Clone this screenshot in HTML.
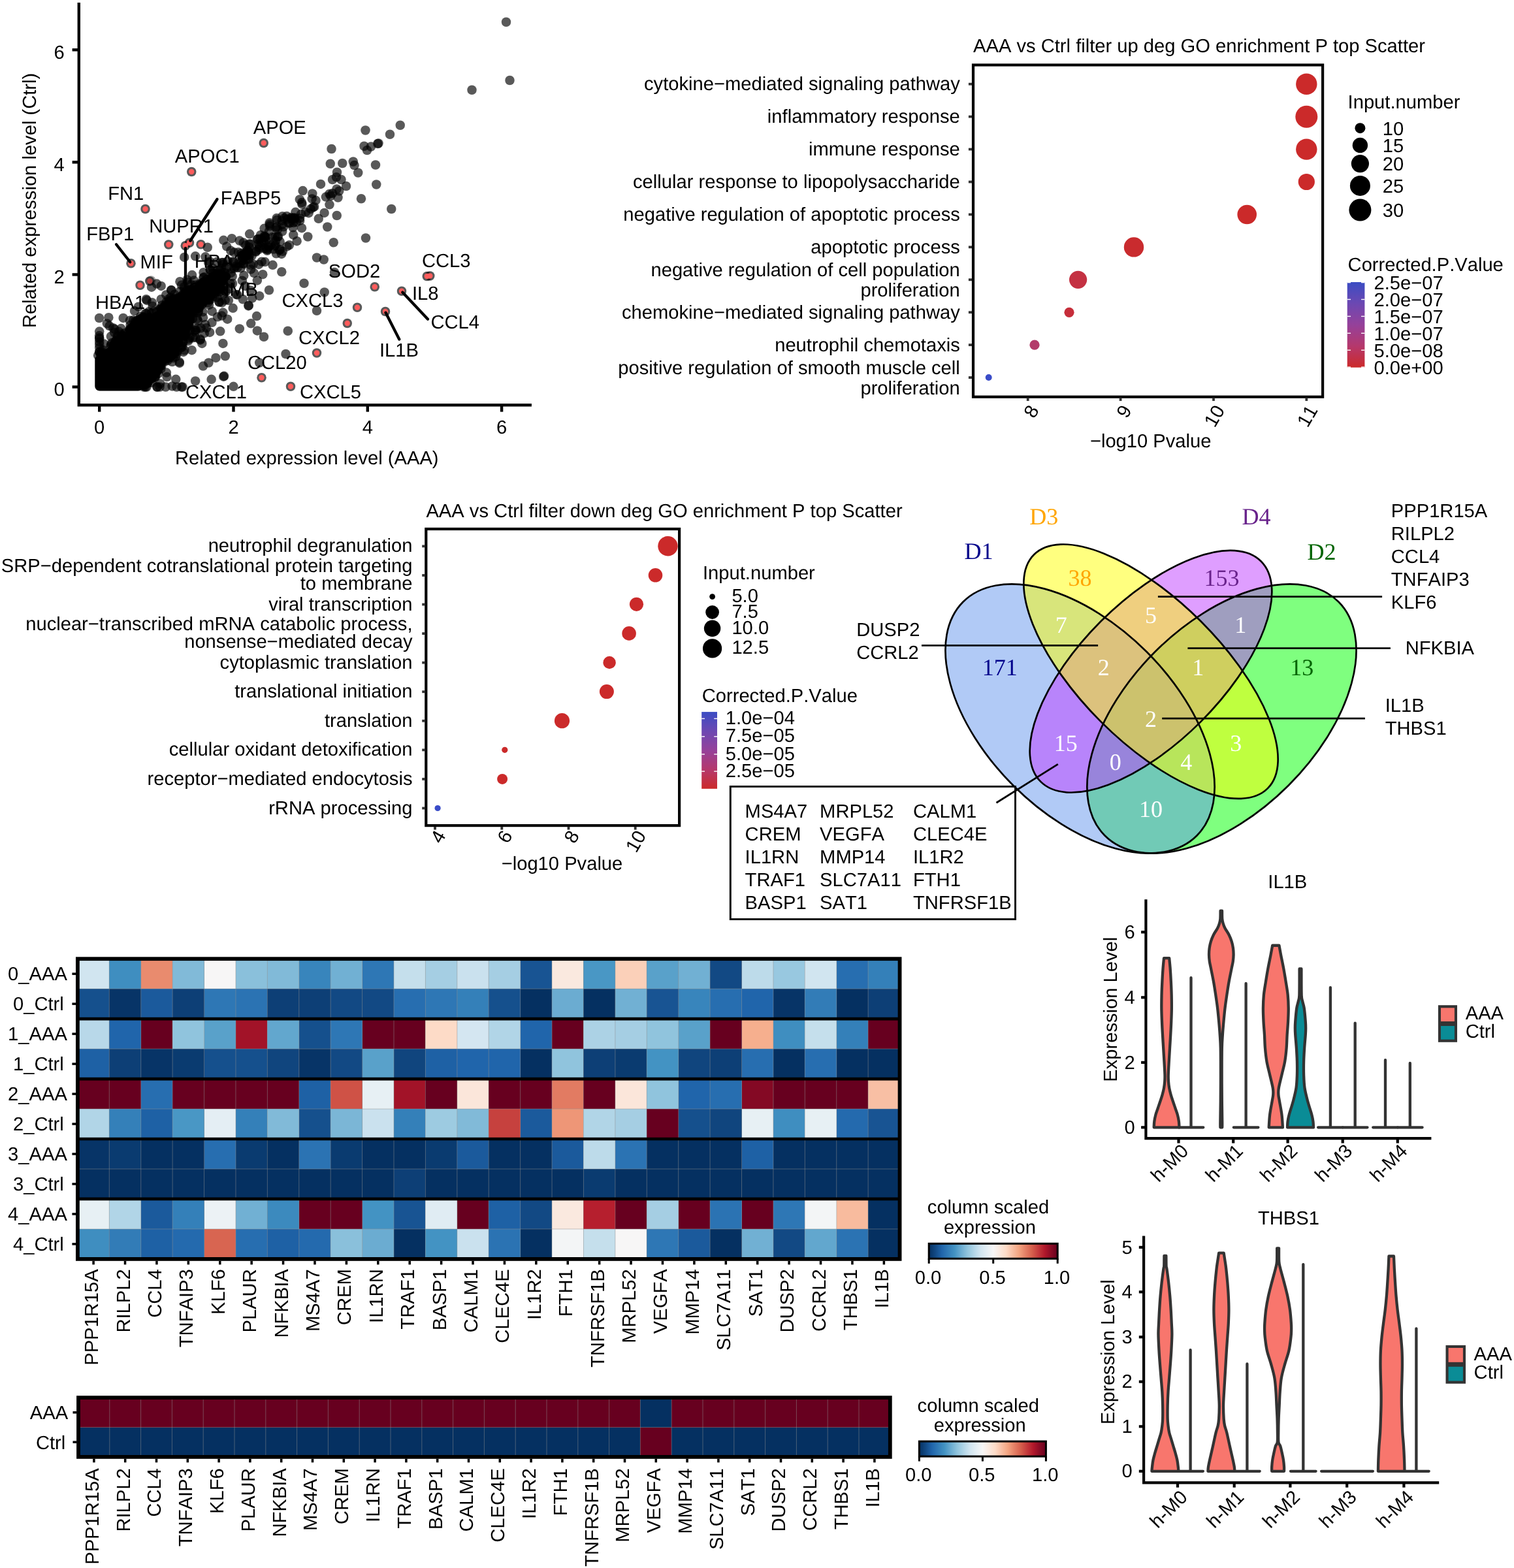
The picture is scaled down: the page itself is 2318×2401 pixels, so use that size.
<!DOCTYPE html>
<html><head><meta charset="utf-8"><title>Figure</title>
<style>
html,body{margin:0;padding:0;background:#fff}
svg{display:block}
svg{font-family:"Liberation Sans",sans-serif;font-size:29.17px}
text{font-kerning:none;text-rendering:geometricPrecision}
.serif{font-family:"Liberation Serif",serif;font-size:36px}
</style></head><body>
<svg width="2318" height="2401" viewBox="0 0 2318 2401">
<rect width="2318" height="2401" fill="#fff"/>
<g id="pa">
<g fill="#000" fill-opacity="0.65">
<circle cx="248.75" cy="476.04" r="7.25"/>
<circle cx="332.77" cy="424.13" r="7.25"/>
<circle cx="260.15" cy="467.78" r="7.25"/>
<circle cx="200.89" cy="506.87" r="7.25"/>
<circle cx="284.99" cy="456.04" r="7.25"/>
<circle cx="176.32" cy="525.55" r="7.25"/>
<circle cx="178.17" cy="529.66" r="7.25"/>
<circle cx="289.95" cy="444.1" r="7.25"/>
<circle cx="339.76" cy="426.22" r="7.25"/>
<circle cx="287.67" cy="451.82" r="7.25"/>
<circle cx="191.13" cy="509.89" r="7.25"/>
<circle cx="261.59" cy="461.02" r="7.25"/>
<circle cx="200.74" cy="503.88" r="7.25"/>
<circle cx="159.64" cy="539.91" r="7.25"/>
<circle cx="247.81" cy="479.79" r="7.25"/>
<circle cx="262.71" cy="466.43" r="7.25"/>
<circle cx="258.9" cy="469.53" r="7.25"/>
<circle cx="248.3" cy="473.34" r="7.25"/>
<circle cx="341.61" cy="425.89" r="7.25"/>
<circle cx="320.85" cy="432.74" r="7.25"/>
<circle cx="218.82" cy="487.51" r="7.25"/>
<circle cx="213.48" cy="488.98" r="7.25"/>
<circle cx="304.6" cy="438.86" r="7.25"/>
<circle cx="320.61" cy="429.69" r="7.25"/>
<circle cx="336.68" cy="426.18" r="7.25"/>
<circle cx="150.11" cy="544.13" r="7.25"/>
<circle cx="330.67" cy="425.23" r="7.25"/>
<circle cx="338" cy="421.65" r="7.25"/>
<circle cx="172.73" cy="532.02" r="7.25"/>
<circle cx="306.84" cy="436.32" r="7.25"/>
<circle cx="174.71" cy="527.16" r="7.25"/>
<circle cx="337.13" cy="425.22" r="7.25"/>
<circle cx="182.07" cy="520.32" r="7.25"/>
<circle cx="176.77" cy="522.5" r="7.25"/>
<circle cx="310.68" cy="433.28" r="7.25"/>
<circle cx="267.35" cy="462.34" r="7.25"/>
<circle cx="203.68" cy="506.91" r="7.25"/>
<circle cx="187.5" cy="520.36" r="7.25"/>
<circle cx="182.63" cy="521.79" r="7.25"/>
<circle cx="205.86" cy="498.98" r="7.25"/>
<circle cx="338.03" cy="425.33" r="7.25"/>
<circle cx="219.65" cy="493.54" r="7.25"/>
<circle cx="206.41" cy="499.99" r="7.25"/>
<circle cx="323.09" cy="430.81" r="7.25"/>
<circle cx="181.59" cy="528.91" r="7.25"/>
<circle cx="205.83" cy="498.86" r="7.25"/>
<circle cx="305.76" cy="437.51" r="7.25"/>
<circle cx="214.78" cy="488.26" r="7.25"/>
<circle cx="176.81" cy="528.24" r="7.25"/>
<circle cx="211.88" cy="496.22" r="7.25"/>
<circle cx="228.2" cy="486.44" r="7.25"/>
<circle cx="335.81" cy="423.16" r="7.25"/>
<circle cx="271.72" cy="464.56" r="7.25"/>
<circle cx="198.36" cy="505" r="7.25"/>
<circle cx="331.73" cy="428.05" r="7.25"/>
<circle cx="209.98" cy="492.96" r="7.25"/>
<circle cx="300.73" cy="446.34" r="7.25"/>
<circle cx="206.44" cy="506.96" r="7.25"/>
<circle cx="326.91" cy="428.4" r="7.25"/>
<circle cx="240.11" cy="477.6" r="7.25"/>
<circle cx="164.57" cy="541.64" r="7.25"/>
<circle cx="211.98" cy="497.49" r="7.25"/>
<circle cx="215.13" cy="495.32" r="7.25"/>
<circle cx="274.43" cy="458.27" r="7.25"/>
<circle cx="199.75" cy="510.32" r="7.25"/>
<circle cx="169.49" cy="530.19" r="7.25"/>
<circle cx="268.6" cy="465.6" r="7.25"/>
<circle cx="279.79" cy="454.62" r="7.25"/>
<circle cx="330.72" cy="422.64" r="7.25"/>
<circle cx="154.88" cy="541.29" r="7.25"/>
<circle cx="244.81" cy="473.61" r="7.25"/>
<circle cx="197.93" cy="507.88" r="7.25"/>
<circle cx="269.01" cy="458.81" r="7.25"/>
<circle cx="227.17" cy="490.58" r="7.25"/>
<circle cx="338.72" cy="423.77" r="7.25"/>
<circle cx="292.21" cy="448.22" r="7.25"/>
<circle cx="186.89" cy="513.93" r="7.25"/>
<circle cx="158.5" cy="545.5" r="7.25"/>
<circle cx="295.51" cy="449.95" r="7.25"/>
<circle cx="158.05" cy="542.9" r="7.25"/>
<circle cx="255.69" cy="472.67" r="7.25"/>
<circle cx="222.76" cy="492.9" r="7.25"/>
<circle cx="172.85" cy="531.01" r="7.25"/>
<circle cx="300.01" cy="446.34" r="7.25"/>
<circle cx="299.2" cy="444.85" r="7.25"/>
<circle cx="312.91" cy="439.31" r="7.25"/>
<circle cx="224.65" cy="489.39" r="7.25"/>
<circle cx="330.78" cy="429.04" r="7.25"/>
<circle cx="242.79" cy="482.99" r="7.25"/>
<circle cx="324.41" cy="429.37" r="7.25"/>
<circle cx="281.97" cy="453.95" r="7.25"/>
<circle cx="272.59" cy="461.86" r="7.25"/>
<circle cx="174.6" cy="530.64" r="7.25"/>
<circle cx="340.8" cy="425.1" r="7.25"/>
<circle cx="296.9" cy="443.06" r="7.25"/>
<circle cx="298.22" cy="444.18" r="7.25"/>
<circle cx="247.78" cy="479.76" r="7.25"/>
<circle cx="176.11" cy="530.66" r="7.25"/>
<circle cx="160.25" cy="540.93" r="7.25"/>
<circle cx="252.84" cy="469.41" r="7.25"/>
<circle cx="292.88" cy="446.88" r="7.25"/>
<circle cx="283.35" cy="458.84" r="7.25"/>
<circle cx="209.6" cy="491.01" r="7.25"/>
<circle cx="218.21" cy="492.31" r="7.25"/>
<circle cx="203.89" cy="499.99" r="7.25"/>
<circle cx="330.71" cy="427.04" r="7.25"/>
<circle cx="248.35" cy="479.92" r="7.25"/>
<circle cx="222.76" cy="489.59" r="7.25"/>
<circle cx="203.93" cy="503.19" r="7.25"/>
<circle cx="315.66" cy="437.76" r="7.25"/>
<circle cx="325.77" cy="426.85" r="7.25"/>
<circle cx="271.79" cy="459.47" r="7.25"/>
<circle cx="188.5" cy="517.85" r="7.25"/>
<circle cx="320.9" cy="434.12" r="7.25"/>
<circle cx="297.01" cy="448.82" r="7.25"/>
<circle cx="211.73" cy="490.96" r="7.25"/>
<circle cx="246.92" cy="474.34" r="7.25"/>
<circle cx="206.97" cy="499.59" r="7.25"/>
<circle cx="282.71" cy="454.59" r="7.25"/>
<circle cx="221.44" cy="492.06" r="7.25"/>
<circle cx="338.34" cy="422.04" r="7.25"/>
<circle cx="169.92" cy="527.66" r="7.25"/>
<circle cx="323.32" cy="424.77" r="7.25"/>
<circle cx="294.8" cy="446.36" r="7.25"/>
<circle cx="220.11" cy="492.35" r="7.25"/>
<circle cx="154.91" cy="539.85" r="7.25"/>
<circle cx="246.48" cy="471.97" r="7.25"/>
<circle cx="316.97" cy="430.29" r="7.25"/>
<circle cx="187.1" cy="513.89" r="7.25"/>
<circle cx="282.97" cy="453.84" r="7.25"/>
<circle cx="284.24" cy="455.12" r="7.25"/>
<circle cx="316.1" cy="437.95" r="7.25"/>
<circle cx="289.35" cy="446.14" r="7.25"/>
<circle cx="251.4" cy="469.94" r="7.25"/>
<circle cx="154.29" cy="543.89" r="7.25"/>
<circle cx="293.77" cy="442.98" r="7.25"/>
<circle cx="211.69" cy="492.73" r="7.25"/>
<circle cx="292.83" cy="447.15" r="7.25"/>
<circle cx="282.44" cy="457.76" r="7.25"/>
<circle cx="233.33" cy="488.16" r="7.25"/>
<circle cx="328.58" cy="422.58" r="7.25"/>
<circle cx="335.04" cy="425.48" r="7.25"/>
<circle cx="186.21" cy="519.3" r="7.25"/>
<circle cx="284.98" cy="457.37" r="7.25"/>
<circle cx="229.47" cy="487.14" r="7.25"/>
<circle cx="327.22" cy="430.11" r="7.25"/>
<circle cx="334.06" cy="423.56" r="7.25"/>
<circle cx="285.01" cy="449.43" r="7.25"/>
<circle cx="298.01" cy="446.78" r="7.25"/>
<circle cx="286.36" cy="454.06" r="7.25"/>
<circle cx="210.09" cy="502.39" r="7.25"/>
<circle cx="339.6" cy="426.39" r="7.25"/>
<circle cx="263.86" cy="466.81" r="7.25"/>
<circle cx="222.64" cy="492.08" r="7.25"/>
<circle cx="322.08" cy="428.47" r="7.25"/>
<circle cx="174.18" cy="528.78" r="7.25"/>
<circle cx="266.5" cy="465.61" r="7.25"/>
<circle cx="253.12" cy="467.03" r="7.25"/>
<circle cx="312.58" cy="431.08" r="7.25"/>
<circle cx="311.31" cy="432.88" r="7.25"/>
<circle cx="221.45" cy="491.1" r="7.25"/>
<circle cx="187.59" cy="514.63" r="7.25"/>
<circle cx="262.62" cy="467.4" r="7.25"/>
<circle cx="320.73" cy="432.63" r="7.25"/>
<circle cx="334.31" cy="423.74" r="7.25"/>
<circle cx="333.59" cy="420.29" r="7.25"/>
<circle cx="208.65" cy="499.09" r="7.25"/>
<circle cx="216.5" cy="493.79" r="7.25"/>
<circle cx="284.87" cy="453.11" r="7.25"/>
<circle cx="320.83" cy="431.29" r="7.25"/>
<circle cx="218.83" cy="489.01" r="7.25"/>
<circle cx="322.58" cy="433.67" r="7.25"/>
<circle cx="209.13" cy="502.89" r="7.25"/>
<circle cx="336.99" cy="423.14" r="7.25"/>
<circle cx="269.39" cy="459.31" r="7.25"/>
<circle cx="262.78" cy="464.57" r="7.25"/>
<circle cx="277.01" cy="454.1" r="7.25"/>
<circle cx="337.07" cy="423.04" r="7.25"/>
<circle cx="239.49" cy="485.59" r="7.25"/>
<circle cx="268.21" cy="462.42" r="7.25"/>
<circle cx="289.7" cy="444.52" r="7.25"/>
<circle cx="263.08" cy="463.63" r="7.25"/>
<circle cx="336.75" cy="426.85" r="7.25"/>
<circle cx="211.68" cy="494.01" r="7.25"/>
<circle cx="185.36" cy="519.76" r="7.25"/>
<circle cx="317.33" cy="436.67" r="7.25"/>
<circle cx="252.4" cy="470.69" r="7.25"/>
<circle cx="203.22" cy="506" r="7.25"/>
<circle cx="331.64" cy="421.46" r="7.25"/>
<circle cx="305.98" cy="434.36" r="7.25"/>
<circle cx="201.64" cy="502.89" r="7.25"/>
<circle cx="290.32" cy="446.76" r="7.25"/>
<circle cx="225.23" cy="488.66" r="7.25"/>
<circle cx="181.36" cy="526.24" r="7.25"/>
<circle cx="184.71" cy="521.12" r="7.25"/>
<circle cx="210.17" cy="492.84" r="7.25"/>
<circle cx="263.94" cy="463.32" r="7.25"/>
<circle cx="228.93" cy="485.9" r="7.25"/>
<circle cx="262.3" cy="461.56" r="7.25"/>
<circle cx="207.17" cy="502.28" r="7.25"/>
<circle cx="284.84" cy="453.21" r="7.25"/>
<circle cx="322.4" cy="430.9" r="7.25"/>
<circle cx="321.76" cy="427.51" r="7.25"/>
<circle cx="300.49" cy="445.19" r="7.25"/>
<circle cx="328.92" cy="424.62" r="7.25"/>
<circle cx="221.73" cy="492.73" r="7.25"/>
<circle cx="211.36" cy="502.2" r="7.25"/>
<circle cx="325.91" cy="424.37" r="7.25"/>
<circle cx="212.25" cy="497.47" r="7.25"/>
<circle cx="210.63" cy="490.93" r="7.25"/>
<circle cx="318.2" cy="431.42" r="7.25"/>
<circle cx="308.85" cy="433.79" r="7.25"/>
<circle cx="239.33" cy="484.45" r="7.25"/>
<circle cx="154.86" cy="540.58" r="7.25"/>
<circle cx="292.43" cy="451.47" r="7.25"/>
<circle cx="335.86" cy="419.8" r="7.25"/>
<circle cx="260.59" cy="469.29" r="7.25"/>
<circle cx="259.63" cy="469.23" r="7.25"/>
<circle cx="199.44" cy="503.05" r="7.25"/>
<circle cx="177.95" cy="521.31" r="7.25"/>
<circle cx="266.01" cy="463.46" r="7.25"/>
<circle cx="268.36" cy="459.19" r="7.25"/>
<circle cx="199.08" cy="504.93" r="7.25"/>
<circle cx="322.06" cy="434.86" r="7.25"/>
<circle cx="331.75" cy="421.07" r="7.25"/>
<circle cx="171" cy="536.85" r="7.25"/>
<circle cx="251.78" cy="475.98" r="7.25"/>
<circle cx="221.89" cy="488.11" r="7.25"/>
<circle cx="260.85" cy="465.57" r="7.25"/>
<circle cx="276.28" cy="454.55" r="7.25"/>
<circle cx="295.72" cy="471.67" r="7.25"/>
<circle cx="242.05" cy="561.41" r="7.25"/>
<circle cx="306.41" cy="464.76" r="7.25"/>
<circle cx="245.73" cy="560.66" r="7.25"/>
<circle cx="282.1" cy="511.48" r="7.25"/>
<circle cx="329.52" cy="437.59" r="7.25"/>
<circle cx="296.35" cy="470.69" r="7.25"/>
<circle cx="287.41" cy="490.39" r="7.25"/>
<circle cx="284.22" cy="494.84" r="7.25"/>
<circle cx="334.73" cy="427.3" r="7.25"/>
<circle cx="248.85" cy="545.99" r="7.25"/>
<circle cx="304.97" cy="461.46" r="7.25"/>
<circle cx="319.66" cy="451.01" r="7.25"/>
<circle cx="329.56" cy="436.67" r="7.25"/>
<circle cx="294.97" cy="473.61" r="7.25"/>
<circle cx="311.64" cy="459.04" r="7.25"/>
<circle cx="305.23" cy="470.68" r="7.25"/>
<circle cx="260.9" cy="537.51" r="7.25"/>
<circle cx="219.48" cy="590.51" r="7.25"/>
<circle cx="286.47" cy="488.03" r="7.25"/>
<circle cx="244.86" cy="550.62" r="7.25"/>
<circle cx="290.9" cy="484.69" r="7.25"/>
<circle cx="288.6" cy="484.82" r="7.25"/>
<circle cx="280.32" cy="507.01" r="7.25"/>
<circle cx="337.41" cy="424.73" r="7.25"/>
<circle cx="296.31" cy="472.07" r="7.25"/>
<circle cx="340.69" cy="430.52" r="7.25"/>
<circle cx="283.69" cy="491.38" r="7.25"/>
<circle cx="251.99" cy="549.09" r="7.25"/>
<circle cx="226.99" cy="584.15" r="7.25"/>
<circle cx="267.77" cy="532.26" r="7.25"/>
<circle cx="247.98" cy="547.07" r="7.25"/>
<circle cx="280.4" cy="503.9" r="7.25"/>
<circle cx="335.34" cy="430.97" r="7.25"/>
<circle cx="337.06" cy="425.62" r="7.25"/>
<circle cx="320.84" cy="453.85" r="7.25"/>
<circle cx="282.09" cy="494.2" r="7.25"/>
<circle cx="221.38" cy="580.91" r="7.25"/>
<circle cx="239.33" cy="564.78" r="7.25"/>
<circle cx="240.28" cy="563.17" r="7.25"/>
<circle cx="288.6" cy="494.69" r="7.25"/>
<circle cx="334.72" cy="435.48" r="7.25"/>
<circle cx="278.26" cy="507.41" r="7.25"/>
<circle cx="265.16" cy="533.48" r="7.25"/>
<circle cx="288.29" cy="485.61" r="7.25"/>
<circle cx="253.2" cy="543.5" r="7.25"/>
<circle cx="259.32" cy="545.66" r="7.25"/>
<circle cx="252.65" cy="553.19" r="7.25"/>
<circle cx="236.97" cy="563.86" r="7.25"/>
<circle cx="263.6" cy="525.82" r="7.25"/>
<circle cx="310.59" cy="464.52" r="7.25"/>
<circle cx="334.13" cy="425.7" r="7.25"/>
<circle cx="226.15" cy="575.87" r="7.25"/>
<circle cx="271.71" cy="519.75" r="7.25"/>
<circle cx="338.38" cy="431.01" r="7.25"/>
<circle cx="275.31" cy="506.93" r="7.25"/>
<circle cx="302.62" cy="468.46" r="7.25"/>
<circle cx="334.33" cy="427.97" r="7.25"/>
<circle cx="287.55" cy="495.69" r="7.25"/>
<circle cx="286.6" cy="491.03" r="7.25"/>
<circle cx="247.55" cy="559.86" r="7.25"/>
<circle cx="282.16" cy="508.62" r="7.25"/>
<circle cx="271.73" cy="516.9" r="7.25"/>
<circle cx="275.87" cy="517.13" r="7.25"/>
<circle cx="283.07" cy="498.94" r="7.25"/>
<circle cx="312.94" cy="456.21" r="7.25"/>
<circle cx="334.78" cy="424.05" r="7.25"/>
<circle cx="306.49" cy="466.91" r="7.25"/>
<circle cx="230.82" cy="570.08" r="7.25"/>
<circle cx="313.4" cy="454.6" r="7.25"/>
<circle cx="264.48" cy="534.84" r="7.25"/>
<circle cx="294.33" cy="477.1" r="7.25"/>
<circle cx="282.58" cy="495.63" r="7.25"/>
<circle cx="311.02" cy="462.28" r="7.25"/>
<circle cx="246.67" cy="547.7" r="7.25"/>
<circle cx="332.29" cy="434.34" r="7.25"/>
<circle cx="226.08" cy="586.92" r="7.25"/>
<circle cx="253.57" cy="546.92" r="7.25"/>
<circle cx="289.25" cy="492.54" r="7.25"/>
<circle cx="283.41" cy="506.58" r="7.25"/>
<circle cx="228.97" cy="575.66" r="7.25"/>
<circle cx="279.44" cy="503.43" r="7.25"/>
<circle cx="264.66" cy="531.08" r="7.25"/>
<circle cx="246.39" cy="557.21" r="7.25"/>
<circle cx="304.65" cy="461.03" r="7.25"/>
<circle cx="231.35" cy="580.22" r="7.25"/>
<circle cx="317.44" cy="450.57" r="7.25"/>
<circle cx="313.38" cy="459.64" r="7.25"/>
<circle cx="272.73" cy="521.58" r="7.25"/>
<circle cx="319.11" cy="452.01" r="7.25"/>
<circle cx="284.87" cy="484.2" r="7.25"/>
<circle cx="259.39" cy="538.49" r="7.25"/>
<circle cx="304.36" cy="460.27" r="7.25"/>
<circle cx="272.29" cy="520.55" r="7.25"/>
<circle cx="228.88" cy="572.91" r="7.25"/>
<circle cx="232.27" cy="579.67" r="7.25"/>
<circle cx="281.45" cy="501.67" r="7.25"/>
<circle cx="296.15" cy="478.5" r="7.25"/>
<circle cx="315.31" cy="459.38" r="7.25"/>
<circle cx="244.51" cy="555.14" r="7.25"/>
<circle cx="231.36" cy="577.82" r="7.25"/>
<circle cx="301.58" cy="466.66" r="7.25"/>
<circle cx="256.88" cy="546.81" r="7.25"/>
<circle cx="260.95" cy="533.11" r="7.25"/>
<circle cx="266.5" cy="534.06" r="7.25"/>
<circle cx="299.22" cy="471.18" r="7.25"/>
<circle cx="328.46" cy="438.54" r="7.25"/>
<circle cx="334.43" cy="437.51" r="7.25"/>
<circle cx="318.39" cy="453.51" r="7.25"/>
<circle cx="259.42" cy="540.43" r="7.25"/>
<circle cx="330.13" cy="435.76" r="7.25"/>
<circle cx="250.85" cy="551" r="7.25"/>
<circle cx="264.58" cy="533.14" r="7.25"/>
<circle cx="268.06" cy="526.94" r="7.25"/>
<circle cx="242.96" cy="558.62" r="7.25"/>
<circle cx="315.99" cy="453.04" r="7.25"/>
<circle cx="322.79" cy="446.07" r="7.25"/>
<circle cx="239.38" cy="560.59" r="7.25"/>
<circle cx="330.7" cy="442.49" r="7.25"/>
<circle cx="220.34" cy="587.47" r="7.25"/>
<circle cx="279.56" cy="504.67" r="7.25"/>
<circle cx="334.62" cy="430.81" r="7.25"/>
<circle cx="320.07" cy="454.77" r="7.25"/>
<circle cx="277.94" cy="503.57" r="7.25"/>
<circle cx="232.78" cy="579.12" r="7.25"/>
<circle cx="302.67" cy="462.59" r="7.25"/>
<circle cx="229.05" cy="576.16" r="7.25"/>
<circle cx="235.48" cy="565.97" r="7.25"/>
<circle cx="290.23" cy="487.82" r="7.25"/>
<circle cx="244.67" cy="553.44" r="7.25"/>
<circle cx="276.59" cy="507.75" r="7.25"/>
<circle cx="268.28" cy="527.41" r="7.25"/>
<circle cx="334.61" cy="430.4" r="7.25"/>
<circle cx="277.81" cy="510.33" r="7.25"/>
<circle cx="300.66" cy="467.57" r="7.25"/>
<circle cx="334.81" cy="437.5" r="7.25"/>
<circle cx="319.95" cy="447.54" r="7.25"/>
<circle cx="323.86" cy="442.39" r="7.25"/>
<circle cx="320.6" cy="444.25" r="7.25"/>
<circle cx="334.01" cy="432.43" r="7.25"/>
<circle cx="277.17" cy="507.54" r="7.25"/>
<circle cx="317.55" cy="452.93" r="7.25"/>
<circle cx="273.12" cy="522.69" r="7.25"/>
<circle cx="302.91" cy="461.06" r="7.25"/>
<circle cx="267.24" cy="531.99" r="7.25"/>
<circle cx="245.06" cy="557.81" r="7.25"/>
<circle cx="252.57" cy="540.87" r="7.25"/>
<circle cx="227.68" cy="581.9" r="7.25"/>
<circle cx="232.62" cy="571.2" r="7.25"/>
<circle cx="314.75" cy="458.68" r="7.25"/>
<circle cx="227.22" cy="580.47" r="7.25"/>
<circle cx="279.84" cy="495.8" r="7.25"/>
<circle cx="225.26" cy="587.22" r="7.25"/>
<circle cx="244.08" cy="562.1" r="7.25"/>
<circle cx="246.83" cy="551.26" r="7.25"/>
<circle cx="285.99" cy="496.71" r="7.25"/>
<circle cx="243.7" cy="561.7" r="7.25"/>
<circle cx="238.89" cy="561.26" r="7.25"/>
<circle cx="257.73" cy="540.44" r="7.25"/>
<circle cx="319.61" cy="450.16" r="7.25"/>
<circle cx="249.27" cy="545.82" r="7.25"/>
<circle cx="335.1" cy="438.03" r="7.25"/>
<circle cx="276.61" cy="502.97" r="7.25"/>
<circle cx="278.9" cy="513.49" r="7.25"/>
<circle cx="222.02" cy="579.97" r="7.25"/>
<circle cx="317.64" cy="453.29" r="7.25"/>
<circle cx="278.97" cy="507.52" r="7.25"/>
<circle cx="250.31" cy="543.24" r="7.25"/>
<circle cx="290.98" cy="486.46" r="7.25"/>
<circle cx="218.77" cy="589.79" r="7.25"/>
<circle cx="262.1" cy="530" r="7.25"/>
<circle cx="299.79" cy="470" r="7.25"/>
<circle cx="241.18" cy="566.84" r="7.25"/>
<circle cx="260.85" cy="540.63" r="7.25"/>
<circle cx="327.72" cy="442.38" r="7.25"/>
<circle cx="283.48" cy="486.89" r="7.25"/>
<circle cx="252.32" cy="546.94" r="7.25"/>
<circle cx="236.14" cy="564.75" r="7.25"/>
<circle cx="214.98" cy="589.53" r="7.25"/>
<circle cx="322.73" cy="443.18" r="7.25"/>
<circle cx="231.7" cy="577.88" r="7.25"/>
<circle cx="303.82" cy="472.02" r="7.25"/>
<circle cx="276.91" cy="512.6" r="7.25"/>
<circle cx="334.25" cy="433.03" r="7.25"/>
<circle cx="327.23" cy="445.22" r="7.25"/>
<circle cx="315.48" cy="455.06" r="7.25"/>
<circle cx="335.01" cy="441.85" r="7.25"/>
<circle cx="322.76" cy="450.32" r="7.25"/>
<circle cx="279.85" cy="504.93" r="7.25"/>
<circle cx="236.55" cy="563.31" r="7.25"/>
<circle cx="259.25" cy="541.82" r="7.25"/>
<circle cx="230.43" cy="578.84" r="7.25"/>
<circle cx="273.87" cy="513.2" r="7.25"/>
<circle cx="261.47" cy="532.89" r="7.25"/>
<circle cx="233.27" cy="573.98" r="7.25"/>
<circle cx="271.55" cy="512.71" r="7.25"/>
<circle cx="320.6" cy="447.05" r="7.25"/>
<circle cx="219.63" cy="590.07" r="7.25"/>
<circle cx="301.57" cy="472.83" r="7.25"/>
<circle cx="281.66" cy="501.76" r="7.25"/>
<circle cx="215.36" cy="586.89" r="7.25"/>
<circle cx="318.41" cy="454.69" r="7.25"/>
<circle cx="287.21" cy="493" r="7.25"/>
<circle cx="264.54" cy="530.24" r="7.25"/>
<circle cx="257.47" cy="543.54" r="7.25"/>
<circle cx="265.58" cy="526.39" r="7.25"/>
<circle cx="253.28" cy="550.25" r="7.25"/>
<circle cx="305.31" cy="467.1" r="7.25"/>
<circle cx="333.59" cy="435.03" r="7.25"/>
<circle cx="303.74" cy="468.95" r="7.25"/>
<circle cx="323.56" cy="450.94" r="7.25"/>
<circle cx="239.61" cy="569.84" r="7.25"/>
<circle cx="291.89" cy="478.1" r="7.25"/>
<circle cx="242.24" cy="561.91" r="7.25"/>
<circle cx="322.7" cy="445.81" r="7.25"/>
<circle cx="232.52" cy="577.39" r="7.25"/>
<circle cx="241.38" cy="567.05" r="7.25"/>
<circle cx="271.76" cy="526.05" r="7.25"/>
<circle cx="332.67" cy="439.96" r="7.25"/>
<circle cx="276.93" cy="509.72" r="7.25"/>
<circle cx="309.37" cy="456.24" r="7.25"/>
<circle cx="267.3" cy="529.15" r="7.25"/>
<circle cx="272.83" cy="525.23" r="7.25"/>
<circle cx="266.37" cy="524.51" r="7.25"/>
<circle cx="334.79" cy="427.49" r="7.25"/>
<circle cx="288.34" cy="484.6" r="7.25"/>
<circle cx="220.93" cy="589.2" r="7.25"/>
<circle cx="259.61" cy="536.6" r="7.25"/>
<circle cx="233.45" cy="573.98" r="7.25"/>
<circle cx="275.66" cy="509.65" r="7.25"/>
<circle cx="312.49" cy="424.3" r="7.25"/>
<circle cx="185.35" cy="503.04" r="7.25"/>
<circle cx="325.8" cy="418.26" r="7.25"/>
<circle cx="222.47" cy="480.04" r="7.25"/>
<circle cx="182.07" cy="507.86" r="7.25"/>
<circle cx="336.42" cy="414.46" r="7.25"/>
<circle cx="286.88" cy="432.26" r="7.25"/>
<circle cx="188.68" cy="486.91" r="7.25"/>
<circle cx="279.89" cy="450.77" r="7.25"/>
<circle cx="171.37" cy="525.02" r="7.25"/>
<circle cx="267.01" cy="450.8" r="7.25"/>
<circle cx="211.93" cy="469.71" r="7.25"/>
<circle cx="224.34" cy="480.08" r="7.25"/>
<circle cx="167.55" cy="499.03" r="7.25"/>
<circle cx="175.56" cy="503.76" r="7.25"/>
<circle cx="261.18" cy="455.67" r="7.25"/>
<circle cx="265.84" cy="457.65" r="7.25"/>
<circle cx="314.51" cy="393.27" r="7.25"/>
<circle cx="311.21" cy="425.22" r="7.25"/>
<circle cx="175.2" cy="509.31" r="7.25"/>
<circle cx="205.97" cy="476.03" r="7.25"/>
<circle cx="203.98" cy="490.18" r="7.25"/>
<circle cx="315.96" cy="428.08" r="7.25"/>
<circle cx="263.85" cy="460.04" r="7.25"/>
<circle cx="157.63" cy="536.02" r="7.25"/>
<circle cx="332" cy="401.11" r="7.25"/>
<circle cx="284.01" cy="446.04" r="7.25"/>
<circle cx="281.91" cy="439.37" r="7.25"/>
<circle cx="228.04" cy="477.24" r="7.25"/>
<circle cx="311.81" cy="431.92" r="7.25"/>
<circle cx="199.53" cy="497.78" r="7.25"/>
<circle cx="185.83" cy="511.41" r="7.25"/>
<circle cx="267.98" cy="457.69" r="7.25"/>
<circle cx="258.9" cy="461.07" r="7.25"/>
<circle cx="267.17" cy="456.45" r="7.25"/>
<circle cx="282.89" cy="449.87" r="7.25"/>
<circle cx="286.31" cy="446.04" r="7.25"/>
<circle cx="332.88" cy="414.28" r="7.25"/>
<circle cx="247.87" cy="467.45" r="7.25"/>
<circle cx="275.27" cy="446.26" r="7.25"/>
<circle cx="296.95" cy="429.53" r="7.25"/>
<circle cx="232.04" cy="439.63" r="7.25"/>
<circle cx="311.5" cy="417.18" r="7.25"/>
<circle cx="235.35" cy="476.51" r="7.25"/>
<circle cx="262.11" cy="444.24" r="7.25"/>
<circle cx="258.37" cy="457.75" r="7.25"/>
<circle cx="232.85" cy="463.35" r="7.25"/>
<circle cx="219.11" cy="485.79" r="7.25"/>
<circle cx="286.56" cy="428.42" r="7.25"/>
<circle cx="292.77" cy="435.61" r="7.25"/>
<circle cx="298.93" cy="436.4" r="7.25"/>
<circle cx="273.11" cy="456.62" r="7.25"/>
<circle cx="180.51" cy="515.01" r="7.25"/>
<circle cx="254.61" cy="462.6" r="7.25"/>
<circle cx="159.26" cy="526.56" r="7.25"/>
<circle cx="260.34" cy="460.27" r="7.25"/>
<circle cx="215.06" cy="484.62" r="7.25"/>
<circle cx="207.4" cy="494.33" r="7.25"/>
<circle cx="319.19" cy="401.89" r="7.25"/>
<circle cx="277.99" cy="436.56" r="7.25"/>
<circle cx="233.53" cy="468.85" r="7.25"/>
<circle cx="198.85" cy="490.83" r="7.25"/>
<circle cx="262.33" cy="444.3" r="7.25"/>
<circle cx="169.8" cy="515.09" r="7.25"/>
<circle cx="179.59" cy="514.2" r="7.25"/>
<circle cx="333.88" cy="420.47" r="7.25"/>
<circle cx="206.95" cy="491.87" r="7.25"/>
<circle cx="219.81" cy="485.33" r="7.25"/>
<circle cx="321.89" cy="413.44" r="7.25"/>
<circle cx="231.96" cy="479.44" r="7.25"/>
<circle cx="298.22" cy="479.33" r="7.25"/>
<circle cx="245.23" cy="587.42" r="7.25"/>
<circle cx="280.54" cy="524.15" r="7.25"/>
<circle cx="386.12" cy="456.57" r="7.25"/>
<circle cx="288.83" cy="498.73" r="7.25"/>
<circle cx="293.7" cy="536.24" r="7.25"/>
<circle cx="338.33" cy="441.17" r="7.25"/>
<circle cx="335.81" cy="447.69" r="7.25"/>
<circle cx="288.4" cy="498.55" r="7.25"/>
<circle cx="384.17" cy="495.3" r="7.25"/>
<circle cx="268.94" cy="546.42" r="7.25"/>
<circle cx="274.7" cy="554.32" r="7.25"/>
<circle cx="237.88" cy="573.11" r="7.25"/>
<circle cx="322.25" cy="458.67" r="7.25"/>
<circle cx="361.45" cy="450.89" r="7.25"/>
<circle cx="318.59" cy="458.18" r="7.25"/>
<circle cx="339.64" cy="483.57" r="7.25"/>
<circle cx="285.44" cy="502.56" r="7.25"/>
<circle cx="267.3" cy="539.06" r="7.25"/>
<circle cx="318.91" cy="459.16" r="7.25"/>
<circle cx="261.13" cy="545.68" r="7.25"/>
<circle cx="324.69" cy="476.63" r="7.25"/>
<circle cx="290.88" cy="516.92" r="7.25"/>
<circle cx="346.01" cy="446.55" r="7.25"/>
<circle cx="268.02" cy="537.75" r="7.25"/>
<circle cx="351.35" cy="442.25" r="7.25"/>
<circle cx="279.64" cy="530.75" r="7.25"/>
<circle cx="269.28" cy="580.81" r="7.25"/>
<circle cx="291.87" cy="505.76" r="7.25"/>
<circle cx="291.11" cy="489.71" r="7.25"/>
<circle cx="303.19" cy="478.68" r="7.25"/>
<circle cx="280.87" cy="538.96" r="7.25"/>
<circle cx="246.37" cy="564.66" r="7.25"/>
<circle cx="325.17" cy="454.16" r="7.25"/>
<circle cx="278.11" cy="529.19" r="7.25"/>
<circle cx="274.88" cy="555.93" r="7.25"/>
<circle cx="341.31" cy="428.32" r="7.25"/>
<circle cx="299.6" cy="505.16" r="7.25"/>
<circle cx="306.69" cy="520.73" r="7.25"/>
<circle cx="290.47" cy="494.74" r="7.25"/>
<circle cx="303.03" cy="491.37" r="7.25"/>
<circle cx="289.04" cy="519.41" r="7.25"/>
<circle cx="332.35" cy="455.43" r="7.25"/>
<circle cx="307.54" cy="502.28" r="7.25"/>
<circle cx="320.09" cy="466.99" r="7.25"/>
<circle cx="341.24" cy="433.88" r="7.25"/>
<circle cx="327.35" cy="450.32" r="7.25"/>
<circle cx="303.99" cy="476.52" r="7.25"/>
<circle cx="299.19" cy="508.49" r="7.25"/>
<circle cx="339.88" cy="463.44" r="7.25"/>
<circle cx="271.37" cy="537.68" r="7.25"/>
<circle cx="270.83" cy="541.78" r="7.25"/>
<circle cx="288.79" cy="494.07" r="7.25"/>
<circle cx="311.06" cy="486.2" r="7.25"/>
<circle cx="314.09" cy="496.93" r="7.25"/>
<circle cx="260.32" cy="545.27" r="7.25"/>
<circle cx="232.26" cy="585.85" r="7.25"/>
<circle cx="289.85" cy="505.95" r="7.25"/>
<circle cx="282.38" cy="536.37" r="7.25"/>
<circle cx="255.53" cy="577.08" r="7.25"/>
<circle cx="302" cy="488.14" r="7.25"/>
<circle cx="329.42" cy="450.14" r="7.25"/>
<circle cx="256.59" cy="552.13" r="7.25"/>
<circle cx="237.67" cy="576.39" r="7.25"/>
<circle cx="310.55" cy="477.61" r="7.25"/>
<circle cx="276.96" cy="532.61" r="7.25"/>
<circle cx="254.86" cy="570.55" r="7.25"/>
<circle cx="259.92" cy="547.38" r="7.25"/>
<circle cx="263.69" cy="554.09" r="7.25"/>
<circle cx="344.68" cy="459.53" r="7.25"/>
<circle cx="242.53" cy="571.88" r="7.25"/>
<circle cx="282.72" cy="513.92" r="7.25"/>
<circle cx="340.43" cy="430.58" r="7.25"/>
<circle cx="301.92" cy="502.29" r="7.25"/>
<circle cx="342.81" cy="429.22" r="7.25"/>
<circle cx="298.98" cy="505.96" r="7.25"/>
<circle cx="236.41" cy="576.88" r="7.25"/>
<circle cx="337.11" cy="441.7" r="7.25"/>
<circle cx="285.14" cy="511.24" r="7.25"/>
<circle cx="284.27" cy="505.56" r="7.25"/>
<circle cx="263.62" cy="591.38" r="7.25"/>
<circle cx="335.64" cy="462.75" r="7.25"/>
<circle cx="267.63" cy="537.25" r="7.25"/>
<circle cx="294.92" cy="488.01" r="7.25"/>
<circle cx="312.86" cy="510.14" r="7.25"/>
<circle cx="284.05" cy="514.95" r="7.25"/>
<circle cx="352.79" cy="434.42" r="7.25"/>
<circle cx="237.83" cy="577.73" r="7.25"/>
<circle cx="308.91" cy="466.78" r="7.25"/>
<circle cx="288.23" cy="522.21" r="7.25"/>
<circle cx="342.64" cy="450.06" r="7.25"/>
<circle cx="342.75" cy="444.79" r="7.25"/>
<circle cx="299.61" cy="516.66" r="7.25"/>
<circle cx="295.61" cy="517.19" r="7.25"/>
<circle cx="266.68" cy="541.07" r="7.25"/>
<circle cx="264.92" cy="548.18" r="7.25"/>
<circle cx="258.36" cy="548.32" r="7.25"/>
<circle cx="268.08" cy="542.2" r="7.25"/>
<circle cx="279.85" cy="523.51" r="7.25"/>
<circle cx="356.07" cy="434.02" r="7.25"/>
<circle cx="336.6" cy="443.37" r="7.25"/>
<circle cx="281.88" cy="511.73" r="7.25"/>
<circle cx="318.51" cy="463.61" r="7.25"/>
<circle cx="271.3" cy="526.4" r="7.25"/>
<circle cx="261.51" cy="545.71" r="7.25"/>
<circle cx="306.57" cy="519.26" r="7.25"/>
<circle cx="320.34" cy="459.42" r="7.25"/>
<circle cx="281.76" cy="513.91" r="7.25"/>
<circle cx="343.62" cy="437.26" r="7.25"/>
<circle cx="335.59" cy="462.11" r="7.25"/>
<circle cx="279.44" cy="592.5" r="7.25"/>
<circle cx="220.28" cy="592.5" r="7.25"/>
<circle cx="240.41" cy="592.5" r="7.25"/>
<circle cx="244.57" cy="592.5" r="7.25"/>
<circle cx="224.47" cy="592.5" r="7.25"/>
<circle cx="277.8" cy="592.5" r="7.25"/>
<circle cx="240.62" cy="592.5" r="7.25"/>
<circle cx="270.35" cy="592.5" r="7.25"/>
<circle cx="253.57" cy="592.5" r="7.25"/>
<circle cx="222.59" cy="592.5" r="7.25"/>
<circle cx="152.2" cy="518.85" r="7.25"/>
<circle cx="152.2" cy="527.56" r="7.25"/>
<circle cx="152.2" cy="538.6" r="7.25"/>
<circle cx="152.2" cy="532.45" r="7.25"/>
<circle cx="152.2" cy="507.59" r="7.25"/>
<circle cx="152.2" cy="539.11" r="7.25"/>
<circle cx="152.2" cy="523.42" r="7.25"/>
<circle cx="152.2" cy="517.17" r="7.25"/>
<circle cx="402.3" cy="420.19" r="7.25"/>
<circle cx="393" cy="484.12" r="7.25"/>
<circle cx="380.32" cy="468.39" r="7.25"/>
<circle cx="380.82" cy="467.72" r="7.25"/>
<circle cx="371.86" cy="458.25" r="7.25"/>
<circle cx="397.23" cy="453.17" r="7.25"/>
<circle cx="366.79" cy="503.4" r="7.25"/>
<circle cx="393.85" cy="506.45" r="7.25"/>
<circle cx="404" cy="515.75" r="7.25"/>
<circle cx="341.42" cy="525.9" r="7.25"/>
<circle cx="337.19" cy="507.29" r="7.25"/>
<circle cx="321.12" cy="508.99" r="7.25"/>
<circle cx="309.28" cy="525.9" r="7.25"/>
<circle cx="344.8" cy="545.35" r="7.25"/>
<circle cx="330.42" cy="547.89" r="7.25"/>
<circle cx="319.43" cy="555.5" r="7.25"/>
<circle cx="310.97" cy="560.57" r="7.25"/>
<circle cx="299.13" cy="583.4" r="7.25"/>
<circle cx="323.66" cy="580.87" r="7.25"/>
<circle cx="342.26" cy="576.64" r="7.25"/>
<circle cx="343.11" cy="575.79" r="7.25"/>
<circle cx="357.48" cy="591.86" r="7.25"/>
<circle cx="397.23" cy="555.5" r="7.25"/>
<circle cx="151.99" cy="487" r="7.25"/>
<circle cx="166.36" cy="486.15" r="7.25"/>
<circle cx="151.99" cy="514.06" r="7.25"/>
<circle cx="163.83" cy="495.45" r="7.25"/>
<circle cx="173.13" cy="502.22" r="7.25"/>
<circle cx="223.87" cy="458.25" r="7.25"/>
<circle cx="224.71" cy="459.94" r="7.25"/>
<circle cx="246.7" cy="458.25" r="7.25"/>
<circle cx="254.31" cy="451.48" r="7.25"/>
<circle cx="275.45" cy="431.18" r="7.25"/>
<circle cx="282.22" cy="443.02" r="7.25"/>
<circle cx="239.94" cy="434.57" r="7.25"/>
<circle cx="246.7" cy="437.95" r="7.25"/>
<circle cx="282.22" cy="393.97" r="7.25"/>
<circle cx="299.13" cy="392.28" r="7.25"/>
<circle cx="294.06" cy="421.04" r="7.25"/>
<circle cx="317.74" cy="378.75" r="7.25"/>
<circle cx="342.26" cy="367.76" r="7.25"/>
<circle cx="354.95" cy="365.22" r="7.25"/>
<circle cx="366.79" cy="368.6" r="7.25"/>
<circle cx="383.7" cy="373.68" r="7.25"/>
<circle cx="353.26" cy="383.83" r="7.25"/>
<circle cx="370.17" cy="392.28" r="7.25"/>
<circle cx="383.7" cy="405.81" r="7.25"/>
<circle cx="400.61" cy="400.74" r="7.25"/>
<circle cx="417.53" cy="405.81" r="7.25"/>
<circle cx="409.07" cy="383.83" r="7.25"/>
<circle cx="431.06" cy="388.9" r="7.25"/>
<circle cx="442.9" cy="375.37" r="7.25"/>
<circle cx="393.85" cy="429.49" r="7.25"/>
<circle cx="375.24" cy="437.95" r="7.25"/>
<circle cx="383.7" cy="444.71" r="7.25"/>
<circle cx="363.4" cy="451.48" r="7.25"/>
<circle cx="349.87" cy="459.94" r="7.25"/>
<circle cx="356.64" cy="471.78" r="7.25"/>
<circle cx="341.42" cy="478.54" r="7.25"/>
<circle cx="332.96" cy="485.31" r="7.25"/>
<circle cx="324.5" cy="493.76" r="7.25"/>
<circle cx="348.18" cy="488.69" r="7.25"/>
<circle cx="316.05" cy="502.22" r="7.25"/>
<circle cx="372.66" cy="371.61" r="7.25"/>
<circle cx="443.7" cy="341.74" r="7.25"/>
<circle cx="441.44" cy="341.36" r="7.25"/>
<circle cx="366.21" cy="400.8" r="7.25"/>
<circle cx="341.43" cy="417.06" r="7.25"/>
<circle cx="404.35" cy="380.46" r="7.25"/>
<circle cx="504.36" cy="296.94" r="7.25"/>
<circle cx="384.14" cy="412.43" r="7.25"/>
<circle cx="396.22" cy="404.88" r="7.25"/>
<circle cx="381.69" cy="373.4" r="7.25"/>
<circle cx="341.61" cy="402" r="7.25"/>
<circle cx="467.91" cy="324.66" r="7.25"/>
<circle cx="475.83" cy="319.92" r="7.25"/>
<circle cx="385.75" cy="391.6" r="7.25"/>
<circle cx="408.44" cy="381.38" r="7.25"/>
<circle cx="363.35" cy="409.93" r="7.25"/>
<circle cx="415.02" cy="375.17" r="7.25"/>
<circle cx="395.76" cy="382.06" r="7.25"/>
<circle cx="348.76" cy="399.54" r="7.25"/>
<circle cx="393.82" cy="366.46" r="7.25"/>
<circle cx="483.47" cy="306.79" r="7.25"/>
<circle cx="391.75" cy="384.53" r="7.25"/>
<circle cx="491" cy="281.91" r="7.25"/>
<circle cx="376.17" cy="375.37" r="7.25"/>
<circle cx="445.67" cy="333.01" r="7.25"/>
<circle cx="339.57" cy="410.83" r="7.25"/>
<circle cx="360.88" cy="407.66" r="7.25"/>
<circle cx="376.9" cy="391.65" r="7.25"/>
<circle cx="446.01" cy="334.31" r="7.25"/>
<circle cx="432.87" cy="384.85" r="7.25"/>
<circle cx="459.12" cy="337.99" r="7.25"/>
<circle cx="439.45" cy="377.39" r="7.25"/>
<circle cx="432.44" cy="331.14" r="7.25"/>
<circle cx="412.8" cy="343.6" r="7.25"/>
<circle cx="398.06" cy="365.82" r="7.25"/>
<circle cx="380.26" cy="384.87" r="7.25"/>
<circle cx="404.82" cy="361.45" r="7.25"/>
<circle cx="412.61" cy="341.26" r="7.25"/>
<circle cx="434.08" cy="347.34" r="7.25"/>
<circle cx="396.63" cy="379.03" r="7.25"/>
<circle cx="459.08" cy="334.13" r="7.25"/>
<circle cx="381.7" cy="392.3" r="7.25"/>
<circle cx="368.64" cy="410.44" r="7.25"/>
<circle cx="425.99" cy="362.06" r="7.25"/>
<circle cx="376.01" cy="397.49" r="7.25"/>
<circle cx="458.85" cy="305.42" r="7.25"/>
<circle cx="462.44" cy="312.69" r="7.25"/>
<circle cx="382.14" cy="358.3" r="7.25"/>
<circle cx="332.54" cy="419.05" r="7.25"/>
<circle cx="409.86" cy="382.16" r="7.25"/>
<circle cx="358.3" cy="386.33" r="7.25"/>
<circle cx="413.05" cy="346.14" r="7.25"/>
<circle cx="373.44" cy="402.98" r="7.25"/>
<circle cx="417.24" cy="362.94" r="7.25"/>
<circle cx="373.28" cy="421.87" r="7.25"/>
<circle cx="421.78" cy="375.66" r="7.25"/>
<circle cx="423.52" cy="334.12" r="7.25"/>
<circle cx="370.81" cy="429.64" r="7.25"/>
<circle cx="369.68" cy="387.74" r="7.25"/>
<circle cx="431.85" cy="343.98" r="7.25"/>
<circle cx="496.6" cy="325.89" r="7.25"/>
<circle cx="478.29" cy="296.41" r="7.25"/>
<circle cx="323.98" cy="424.59" r="7.25"/>
<circle cx="498.88" cy="301.51" r="7.25"/>
<circle cx="404.56" cy="349.79" r="7.25"/>
<circle cx="347" cy="410.54" r="7.25"/>
<circle cx="394.72" cy="366.08" r="7.25"/>
<circle cx="421.14" cy="362.97" r="7.25"/>
<circle cx="344.19" cy="417.26" r="7.25"/>
<circle cx="487.76" cy="334.8" r="7.25"/>
<circle cx="379.06" cy="383.33" r="7.25"/>
<circle cx="504.49" cy="313.34" r="7.25"/>
<circle cx="369.63" cy="400.45" r="7.25"/>
<circle cx="391.96" cy="385.59" r="7.25"/>
<circle cx="463.59" cy="292.04" r="7.25"/>
<circle cx="403.33" cy="369.78" r="7.25"/>
<circle cx="422.9" cy="388.28" r="7.25"/>
<circle cx="354.03" cy="411.67" r="7.25"/>
<circle cx="355.76" cy="423.05" r="7.25"/>
<circle cx="397.5" cy="375.97" r="7.25"/>
<circle cx="451.23" cy="335.11" r="7.25"/>
<circle cx="339.83" cy="402.1" r="7.25"/>
<circle cx="353.58" cy="417.9" r="7.25"/>
<circle cx="432.17" cy="354.36" r="7.25"/>
<circle cx="428.67" cy="370.06" r="7.25"/>
<circle cx="370.25" cy="390.97" r="7.25"/>
<circle cx="321.81" cy="413.34" r="7.25"/>
<circle cx="374.97" cy="392.97" r="7.25"/>
<circle cx="425.05" cy="351.47" r="7.25"/>
<circle cx="388.92" cy="418.03" r="7.25"/>
<circle cx="341.93" cy="404.74" r="7.25"/>
<circle cx="454.58" cy="369.13" r="7.25"/>
<circle cx="373.1" cy="388.9" r="7.25"/>
<circle cx="422.32" cy="348.85" r="7.25"/>
<circle cx="422.09" cy="368.75" r="7.25"/>
<circle cx="449.2" cy="359.68" r="7.25"/>
<circle cx="462.04" cy="310.01" r="7.25"/>
<circle cx="453.91" cy="340.06" r="7.25"/>
<circle cx="358.58" cy="410.64" r="7.25"/>
<circle cx="449.64" cy="333.85" r="7.25"/>
<circle cx="509.05" cy="295.93" r="7.25"/>
<circle cx="423.94" cy="336.85" r="7.25"/>
<circle cx="462.03" cy="349.13" r="7.25"/>
<circle cx="347.12" cy="377.28" r="7.25"/>
<circle cx="428.49" cy="382" r="7.25"/>
<circle cx="418.97" cy="381.52" r="7.25"/>
<circle cx="439" cy="330.9" r="7.25"/>
<circle cx="406.39" cy="363.56" r="7.25"/>
<circle cx="325.74" cy="410.67" r="7.25"/>
<circle cx="420.34" cy="376.63" r="7.25"/>
<circle cx="400.92" cy="371.53" r="7.25"/>
<circle cx="380.62" cy="385.53" r="7.25"/>
<circle cx="481.08" cy="316.65" r="7.25"/>
<circle cx="410.64" cy="375.49" r="7.25"/>
<circle cx="398.98" cy="359.99" r="7.25"/>
<circle cx="387.79" cy="404.46" r="7.25"/>
<circle cx="377.91" cy="384.27" r="7.25"/>
<circle cx="405.67" cy="401.1" r="7.25"/>
<circle cx="424.66" cy="362.83" r="7.25"/>
<circle cx="435.17" cy="334.13" r="7.25"/>
<circle cx="427.81" cy="383.14" r="7.25"/>
<circle cx="342.58" cy="428.63" r="7.25"/>
<circle cx="364.86" cy="386.23" r="7.25"/>
<circle cx="373.28" cy="404.46" r="7.25"/>
<circle cx="321.24" cy="400.43" r="7.25"/>
<circle cx="452.41" cy="324.82" r="7.25"/>
<circle cx="406.07" cy="362.45" r="7.25"/>
<circle cx="382.02" cy="378.8" r="7.25"/>
<circle cx="357.12" cy="401.49" r="7.25"/>
<circle cx="423.56" cy="347.17" r="7.25"/>
<circle cx="472.62" cy="326.21" r="7.25"/>
<circle cx="479.38" cy="317.49" r="7.25"/>
<circle cx="407.68" cy="368.16" r="7.25"/>
<circle cx="411.35" cy="378.35" r="7.25"/>
<circle cx="375.71" cy="389.34" r="7.25"/>
<circle cx="460.98" cy="327.8" r="7.25"/>
<circle cx="371.27" cy="398.85" r="7.25"/>
<circle cx="448.56" cy="348.31" r="7.25"/>
<circle cx="380.59" cy="390.75" r="7.25"/>
<circle cx="356.69" cy="400.47" r="7.25"/>
<circle cx="440.04" cy="335.53" r="7.25"/>
<circle cx="451.59" cy="333.42" r="7.25"/>
<circle cx="446.91" cy="335.42" r="7.25"/>
<circle cx="380.86" cy="396.7" r="7.25"/>
<circle cx="411.85" cy="354.02" r="7.25"/>
<circle cx="449.3" cy="341.06" r="7.25"/>
<circle cx="396" cy="373" r="7.25"/>
<circle cx="431.58" cy="337.92" r="7.25"/>
<circle cx="405.03" cy="363" r="7.25"/>
<circle cx="477.69" cy="304.41" r="7.25"/>
<circle cx="775" cy="33.75" r="7.25"/>
<circle cx="780.5" cy="123" r="7.25"/>
<circle cx="722.5" cy="137.75" r="7.25"/>
<circle cx="612.75" cy="191.75" r="7.25"/>
<circle cx="597" cy="205.75" r="7.25"/>
<circle cx="559.5" cy="199.5" r="7.25"/>
<circle cx="578.25" cy="220" r="7.25"/>
<circle cx="579.5" cy="219.5" r="7.25"/>
<circle cx="557.5" cy="223.75" r="7.25"/>
<circle cx="568" cy="224.5" r="7.25"/>
<circle cx="562" cy="230" r="7.25"/>
<circle cx="507.5" cy="228" r="7.25"/>
<circle cx="505.75" cy="250.75" r="7.25"/>
<circle cx="524.25" cy="250" r="7.25"/>
<circle cx="540.75" cy="247.5" r="7.25"/>
<circle cx="542.5" cy="253" r="7.25"/>
<circle cx="575" cy="252.5" r="7.25"/>
<circle cx="548.25" cy="264.5" r="7.25"/>
<circle cx="516" cy="263.75" r="7.25"/>
<circle cx="515" cy="271.25" r="7.25"/>
<circle cx="509" cy="275" r="7.25"/>
<circle cx="522.5" cy="275" r="7.25"/>
<circle cx="576.25" cy="282.5" r="7.25"/>
<circle cx="530" cy="285" r="7.25"/>
<circle cx="515.5" cy="289.5" r="7.25"/>
<circle cx="519.25" cy="292.5" r="7.25"/>
<circle cx="553" cy="304.25" r="7.25"/>
<circle cx="517.5" cy="302.5" r="7.25"/>
<circle cx="506.25" cy="300" r="7.25"/>
<circle cx="599.25" cy="320" r="7.25"/>
<circle cx="515.75" cy="330" r="7.25"/>
<circle cx="501.25" cy="347.5" r="7.25"/>
<circle cx="560" cy="364.5" r="7.25"/>
<circle cx="510.75" cy="371.25" r="7.25"/>
<circle cx="471.25" cy="362.5" r="7.25"/>
<circle cx="485" cy="394.5" r="7.25"/>
<circle cx="495.75" cy="397.5" r="7.25"/>
<circle cx="431.25" cy="416.25" r="7.25"/>
<circle cx="512" cy="417" r="7.25"/>
<circle cx="465.5" cy="433.75" r="7.25"/>
<circle cx="496.75" cy="447.5" r="7.25"/>
<circle cx="412" cy="444.25" r="7.25"/>
<circle cx="485" cy="475.75" r="7.25"/>
<circle cx="440.75" cy="506.75" r="7.25"/>
<circle cx="437.5" cy="542" r="7.25"/>
<circle cx="403.75" cy="219" r="7.25"/>
<circle cx="653.75" cy="423" r="7.25"/>
<circle cx="658.25" cy="422.5" r="7.25"/>
<circle cx="573.75" cy="439.25" r="7.25"/>
<circle cx="615" cy="445.75" r="7.25"/>
<circle cx="547" cy="470.75" r="7.25"/>
<circle cx="590" cy="477" r="7.25"/>
<circle cx="531.75" cy="495" r="7.25"/>
<circle cx="485" cy="540.5" r="7.25"/>
<circle cx="400.5" cy="578.25" r="7.25"/>
<circle cx="445" cy="591.75" r="7.25"/>
<circle cx="293.25" cy="263" r="7.25"/>
<circle cx="222.5" cy="320" r="7.25"/>
<circle cx="258.25" cy="374.5" r="7.25"/>
<circle cx="283.75" cy="376.25" r="7.25"/>
<circle cx="290" cy="371.75" r="7.25"/>
<circle cx="307.5" cy="374.25" r="7.25"/>
<circle cx="200.5" cy="403.25" r="7.25"/>
<circle cx="214.5" cy="436.75" r="7.25"/>
<circle cx="229.25" cy="430.5" r="7.25"/>
</g>
<path d="M152.47 591.38 L211.57 591.38 L226.57 574.64 L236.71 561.11 L246.86 547.58 L257.01 535.74 L267.16 518.83 L275.61 506.99 L280.69 493.46 L287.45 479.93 L304.37 459.63 L317.9 446.1 L329.74 435.95 L336.5 420.73 L345.95 423.41 L338.34 425.95 L328.19 431.02 L316.35 437.79 L301.13 446.25 L290.98 453.01 L280.83 461.47 L267.3 466.54 L253.77 476.69 L240.24 486.84 L226.71 490.22 L214.87 496.99 L206.41 507.13 L189.5 522.36 L172.59 535.89 L152.47 550.88Z" fill="#000" stroke="#000" stroke-width="14.4" stroke-linejoin="round"/>
<g fill="#ff5c5c">
<circle cx="403.75" cy="219" r="4.2"/>
<circle cx="653.75" cy="423" r="4.2"/>
<circle cx="658.25" cy="422.5" r="4.2"/>
<circle cx="573.75" cy="439.25" r="4.2"/>
<circle cx="615" cy="445.75" r="4.2"/>
<circle cx="547" cy="470.75" r="4.2"/>
<circle cx="590" cy="477" r="4.2"/>
<circle cx="531.75" cy="495" r="4.2"/>
<circle cx="485" cy="540.5" r="4.2"/>
<circle cx="400.5" cy="578.25" r="4.2"/>
<circle cx="445" cy="591.75" r="4.2"/>
<circle cx="293.25" cy="263" r="4.2"/>
<circle cx="222.5" cy="320" r="4.2"/>
<circle cx="258.25" cy="374.5" r="4.2"/>
<circle cx="283.75" cy="376.25" r="4.2"/>
<circle cx="290" cy="371.75" r="4.2"/>
<circle cx="307.5" cy="374.25" r="4.2"/>
<circle cx="200.5" cy="403.25" r="4.2"/>
<circle cx="214.5" cy="436.75" r="4.2"/>
<circle cx="229.25" cy="430.5" r="4.2"/>
</g>
<circle cx="231.25" cy="429.5" r="7.25" fill="#000" fill-opacity="0.35"/>
<g stroke="#000" stroke-width="4.3" stroke-linecap="round">
<line x1="332.5" y1="305" x2="291.25" y2="368.75"/>
<line x1="178" y1="374.25" x2="199.25" y2="401.25"/>
<line x1="284" y1="380" x2="284" y2="438.75"/>
<line x1="616.25" y1="447.5" x2="655" y2="488.75"/>
<line x1="590.5" y1="478.75" x2="611.25" y2="519.5"/>
</g>
<text x="387.75" y="205">APOE</text>
<text x="267.85" y="248.75">APOC1</text>
<text x="165.25" y="306.25">FN1</text>
<text x="337.75" y="312.5">FABP5</text>
<text x="228.25" y="356.25">NUPR1</text>
<text x="132.25" y="368.25">FBP1</text>
<text x="214.5" y="411.25">MIF</text>
<text x="297.75" y="410">HBA2</text>
<text x="146" y="472.5">HBA1</text>
<text x="284" y="610">CXCL1</text>
<text x="379" y="565">CCL20</text>
<text x="646" y="408.75">CCL3</text>
<text x="502.75" y="425">SOD2</text>
<text x="631" y="459.25">IL8</text>
<text x="659.5" y="503">CCL4</text>
<text x="431.5" y="469.5">CXCL3</text>
<text x="457" y="526.75">CXCL2</text>
<text x="581" y="546.25">IL1B</text>
<text x="459" y="610">CXCL5</text>
<text text-anchor="end" x="395" y="453">GPNMB</text>
<g stroke="#000" stroke-width="4.4" fill="none">
<path d="M120.8 4 V620.3 H813.9"/>
<line x1="152.2" y1="620.3" x2="152.2" y2="630.6"/>
<line x1="110.6" y1="592.5" x2="120.8" y2="592.5"/>
<line x1="357.5" y1="620.3" x2="357.5" y2="630.6"/>
<line x1="110.6" y1="420.44" x2="120.8" y2="420.44"/>
<line x1="562.8" y1="620.3" x2="562.8" y2="630.6"/>
<line x1="110.6" y1="248.38" x2="120.8" y2="248.38"/>
<line x1="768.1" y1="620.3" x2="768.1" y2="630.6"/>
<line x1="110.6" y1="76.32" x2="120.8" y2="76.32"/>
</g>
<text text-anchor="middle" x="152.2" y="664.3">0</text>
<text text-anchor="end" x="98.6" y="606.1">0</text>
<text text-anchor="middle" x="357.5" y="664.3">2</text>
<text text-anchor="end" x="98.6" y="434.04">2</text>
<text text-anchor="middle" x="562.8" y="664.3">4</text>
<text text-anchor="end" x="98.6" y="261.98">4</text>
<text text-anchor="middle" x="768.1" y="664.3">6</text>
<text text-anchor="end" x="98.6" y="89.92">6</text>
<text text-anchor="middle" x="469.8" y="711">Related expression level (AAA)</text>
<text text-anchor="middle" transform="translate(54.9 307) rotate(-90)">Related expression level (Ctrl)</text>
</g>
<g id="pb">
<circle cx="2000.3" cy="128.7" r="16.2" fill="#CB2A2A"/>
<circle cx="2000.3" cy="178.7" r="17" fill="#CB2A2A"/>
<circle cx="2000.3" cy="228.6" r="16.2" fill="#CB2A2A"/>
<circle cx="2000.3" cy="278.5" r="12.6" fill="#CB2A2A"/>
<circle cx="1909.2" cy="328.5" r="14.8" fill="#CB2A2A"/>
<circle cx="1736" cy="378.4" r="15.2" fill="#C92B2E"/>
<circle cx="1650.6" cy="428.3" r="13.6" fill="#C43142"/>
<circle cx="1637" cy="478.3" r="7.6" fill="#C62E3A"/>
<circle cx="1584" cy="528.2" r="7.6" fill="#B33B6A"/>
<circle cx="1513.7" cy="578" r="5" fill="#3A4CC8"/>
<rect x="1490" y="99.5" width="535.1" height="508.2" fill="none" stroke="#000" stroke-width="4.2"/>
<g stroke="#333" stroke-width="3.8">
<line x1="1482.9" y1="128.7" x2="1488" y2="128.7"/>
<line x1="1482.9" y1="178.63" x2="1488" y2="178.63"/>
<line x1="1482.9" y1="228.56" x2="1488" y2="228.56"/>
<line x1="1482.9" y1="278.49" x2="1488" y2="278.49"/>
<line x1="1482.9" y1="328.42" x2="1488" y2="328.42"/>
<line x1="1482.9" y1="378.35" x2="1488" y2="378.35"/>
<line x1="1482.9" y1="428.28" x2="1488" y2="428.28"/>
<line x1="1482.9" y1="478.21" x2="1488" y2="478.21"/>
<line x1="1482.9" y1="528.14" x2="1488" y2="528.14"/>
<line x1="1482.9" y1="578.07" x2="1488" y2="578.07"/>
<line x1="1573.7" y1="609.3" x2="1573.7" y2="613.9"/>
<line x1="1715.6" y1="609.3" x2="1715.6" y2="613.9"/>
<line x1="1858" y1="609.3" x2="1858" y2="613.9"/>
<line x1="2000.3" y1="609.3" x2="2000.3" y2="613.9"/>
</g>
<g text-anchor="end">
<text x="1469.8" y="138.4">cytokine−mediated signaling pathway</text>
<text x="1469.8" y="188.33">inflammatory response</text>
<text x="1469.8" y="238.26">immune response</text>
<text x="1469.8" y="288.19">cellular response to lipopolysaccharide</text>
<text x="1469.8" y="338.12">negative regulation of apoptotic process</text>
<text x="1469.8" y="388.05">apoptotic process</text>
<text x="1469.8" y="423.18">negative regulation of cell population</text>
<text x="1469.8" y="454.18">proliferation</text>
<text x="1469.8" y="487.91">chemokine−mediated signaling pathway</text>
<text x="1469.8" y="537.84">neutrophil chemotaxis</text>
<text x="1469.8" y="572.97">positive regulation of smooth muscle cell</text>
<text x="1469.8" y="603.97">proliferation</text>
<text transform="translate(1591.7 628) rotate(-60)">8</text>
<text transform="translate(1733.6 628) rotate(-60)">9</text>
<text transform="translate(1876 628) rotate(-60)">10</text>
<text transform="translate(2018.3 628) rotate(-60)">11</text>
</g>
<text text-anchor="middle" x="1761.7" y="685.1">−log10 Pvalue</text>
<text x="1490" y="80.2">AAA vs Ctrl filter up deg GO enrichment P top Scatter</text>
<text x="2063.6" y="166">Input.number</text>
<circle cx="2082.4" cy="196.2" r="8" fill="#000"/>
<text x="2116.7" y="206.6">10</text>
<circle cx="2082.4" cy="222.4" r="11.7" fill="#000"/>
<text x="2116.7" y="232.8">15</text>
<circle cx="2082.4" cy="250.6" r="13.6" fill="#000"/>
<text x="2116.7" y="261">20</text>
<circle cx="2082.4" cy="284.4" r="15.5" fill="#000"/>
<text x="2116.7" y="294.8">25</text>
<circle cx="2082.4" cy="321.5" r="17" fill="#000"/>
<text x="2116.7" y="331.9">30</text>
<text x="2063.6" y="415">Corrected.P.Value</text>
<linearGradient id="gb" x1="0" y1="0" x2="0" y2="1"><stop offset="0" stop-color="#3A4CC3"/><stop offset="0.25" stop-color="#6C48B2"/><stop offset="0.5" stop-color="#95419A"/><stop offset="0.75" stop-color="#B5386C"/><stop offset="1" stop-color="#CC2A2A"/></linearGradient>
<rect x="2062.7" y="432" width="26.7" height="130.7" fill="url(#gb)"/>
<g stroke="#fff" stroke-width="1.4">
<line x1="2062.7" y1="432.6" x2="2068.04" y2="432.6"/>
<line x1="2084.06" y1="432.6" x2="2089.4" y2="432.6"/>
<line x1="2062.7" y1="458.5" x2="2068.04" y2="458.5"/>
<line x1="2084.06" y1="458.5" x2="2089.4" y2="458.5"/>
<line x1="2062.7" y1="484.4" x2="2068.04" y2="484.4"/>
<line x1="2084.06" y1="484.4" x2="2089.4" y2="484.4"/>
<line x1="2062.7" y1="510.3" x2="2068.04" y2="510.3"/>
<line x1="2084.06" y1="510.3" x2="2089.4" y2="510.3"/>
<line x1="2062.7" y1="536.2" x2="2068.04" y2="536.2"/>
<line x1="2084.06" y1="536.2" x2="2089.4" y2="536.2"/>
<line x1="2062.7" y1="562.1" x2="2068.04" y2="562.1"/>
<line x1="2084.06" y1="562.1" x2="2089.4" y2="562.1"/>
</g>
<text x="2103.5" y="443">2.5e−07</text>
<text x="2103.5" y="468.9">2.0e−07</text>
<text x="2103.5" y="494.8">1.5e−07</text>
<text x="2103.5" y="520.7">1.0e−07</text>
<text x="2103.5" y="546.6">5.0e−08</text>
<text x="2103.5" y="572.5">0.0e+00</text>
</g>
<g id="pc">
<circle cx="1022.5" cy="836.2" r="15.2" fill="#CB2A2A"/>
<circle cx="1003.5" cy="880.8" r="10.8" fill="#CB2A2A"/>
<circle cx="974.5" cy="925.3" r="10.6" fill="#CB2A2A"/>
<circle cx="963.1" cy="969.9" r="10.8" fill="#CB2A2A"/>
<circle cx="933.1" cy="1014.5" r="9.7" fill="#CB2A2A"/>
<circle cx="928.9" cy="1059.1" r="11" fill="#CB2A2A"/>
<circle cx="860.5" cy="1103.7" r="11.6" fill="#CB2A2A"/>
<circle cx="772.8" cy="1148.3" r="4.6" fill="#CB2A2A"/>
<circle cx="769.1" cy="1192.9" r="8" fill="#CB2A2A"/>
<circle cx="670.1" cy="1237.5" r="4.6" fill="#3A4CC8"/>
<rect x="652.3" y="810" width="387.8" height="454.1" fill="none" stroke="#000" stroke-width="4.2"/>
<g stroke="#333" stroke-width="3.8">
<line x1="646.2" y1="836.4" x2="650.3" y2="836.4"/>
<line x1="646.2" y1="880.97" x2="650.3" y2="880.97"/>
<line x1="646.2" y1="925.54" x2="650.3" y2="925.54"/>
<line x1="646.2" y1="970.11" x2="650.3" y2="970.11"/>
<line x1="646.2" y1="1014.68" x2="650.3" y2="1014.68"/>
<line x1="646.2" y1="1059.25" x2="650.3" y2="1059.25"/>
<line x1="646.2" y1="1103.82" x2="650.3" y2="1103.82"/>
<line x1="646.2" y1="1148.39" x2="650.3" y2="1148.39"/>
<line x1="646.2" y1="1192.96" x2="650.3" y2="1192.96"/>
<line x1="646.2" y1="1237.53" x2="650.3" y2="1237.53"/>
<line x1="666" y1="1266" x2="666" y2="1270.5"/>
<line x1="768.3" y1="1266" x2="768.3" y2="1270.5"/>
<line x1="870.5" y1="1266" x2="870.5" y2="1270.5"/>
<line x1="972.7" y1="1266" x2="972.7" y2="1270.5"/>
</g>
<g text-anchor="end">
<text x="631.5" y="845.4">neutrophil degranulation</text>
<text x="631.5" y="876.27">SRP−dependent cotranslational protein targeting</text>
<text x="631.5" y="903.27">to membrane</text>
<text x="631.5" y="934.54">viral transcription</text>
<text x="631.5" y="965.41">nuclear−transcribed mRNA catabolic process,</text>
<text x="631.5" y="992.41">nonsense−mediated decay</text>
<text x="631.5" y="1023.68">cytoplasmic translation</text>
<text x="631.5" y="1068.25">translational initiation</text>
<text x="631.5" y="1112.82">translation</text>
<text x="631.5" y="1157.39">cellular oxidant detoxification</text>
<text x="631.5" y="1201.96">receptor−mediated endocytosis</text>
<text x="631.5" y="1246.53">rRNA processing</text>
<text transform="translate(683.4 1279.2) rotate(-60)">4</text>
<text transform="translate(785.7 1279.2) rotate(-60)">6</text>
<text transform="translate(887.9 1279.2) rotate(-60)">8</text>
<text transform="translate(990.1 1279.2) rotate(-60)">10</text>
</g>
<text text-anchor="middle" x="860.5" y="1332">−log10 Pvalue</text>
<text x="652.4" y="791.8">AAA vs Ctrl filter down deg GO enrichment P top Scatter</text>
<text x="1076" y="886.8">Input.number</text>
<circle cx="1090.6" cy="913.6" r="4.4" fill="#000"/>
<text x="1120.4" y="922.1">5.0</text>
<circle cx="1090.6" cy="937.5" r="10.4" fill="#000"/>
<text x="1120.4" y="946">7.5</text>
<circle cx="1090.6" cy="962.2" r="12.7" fill="#000"/>
<text x="1120.4" y="970.7">10.0</text>
<circle cx="1090.6" cy="992.9" r="14.6" fill="#000"/>
<text x="1120.4" y="1001.4">12.5</text>
<text x="1074.7" y="1075">Corrected.P.Value</text>
<linearGradient id="gc" x1="0" y1="0" x2="0" y2="1"><stop offset="0" stop-color="#3A4CC3"/><stop offset="0.25" stop-color="#6C48B2"/><stop offset="0.5" stop-color="#95419A"/><stop offset="0.75" stop-color="#B5386C"/><stop offset="1" stop-color="#CC2A2A"/></linearGradient>
<rect x="1074.2" y="1090.1" width="23.8" height="117.7" fill="url(#gc)"/>
<g stroke="#fff" stroke-width="1.4">
<line x1="1074.2" y1="1100.4" x2="1078.96" y2="1100.4"/>
<line x1="1093.24" y1="1100.4" x2="1098" y2="1100.4"/>
<line x1="1074.2" y1="1127.8" x2="1078.96" y2="1127.8"/>
<line x1="1093.24" y1="1127.8" x2="1098" y2="1127.8"/>
<line x1="1074.2" y1="1154.9" x2="1078.96" y2="1154.9"/>
<line x1="1093.24" y1="1154.9" x2="1098" y2="1154.9"/>
<line x1="1074.2" y1="1181.1" x2="1078.96" y2="1181.1"/>
<line x1="1093.24" y1="1181.1" x2="1098" y2="1181.1"/>
</g>
<text x="1110.7" y="1109">1.0e−04</text>
<text x="1110.7" y="1136.4">7.5e−05</text>
<text x="1110.7" y="1163.5">5.0e−05</text>
<text x="1110.7" y="1189.7">2.5e−05</text>
</g>
<g id="pd">
<ellipse cx="1870.45" cy="1100.49" rx="253.05" ry="144.6" transform="rotate(-45 1870.45 1100.49)" fill="#00FF00" fill-opacity="0.5"/>
<ellipse cx="1653.55" cy="1100.49" rx="253.05" ry="144.6" transform="rotate(45 1653.55 1100.49)" fill="#6495ED" fill-opacity="0.5"/>
<ellipse cx="1762" cy="1028.19" rx="238.59" ry="108.45" transform="rotate(-45 1762 1028.19)" fill="#BF3EFF" fill-opacity="0.5"/>
<ellipse cx="1762" cy="1028.19" rx="253.05" ry="108.45" transform="rotate(45 1762 1028.19)" fill="#FFFF00" fill-opacity="0.5"/>
<g fill="none" stroke="#000" stroke-width="2.7">
<ellipse cx="1870.45" cy="1100.49" rx="253.05" ry="144.6" transform="rotate(-45 1870.45 1100.49)"/>
<ellipse cx="1653.55" cy="1100.49" rx="253.05" ry="144.6" transform="rotate(45 1653.55 1100.49)"/>
<ellipse cx="1762" cy="1028.19" rx="238.59" ry="108.45" transform="rotate(-45 1762 1028.19)"/>
<ellipse cx="1762" cy="1028.19" rx="253.05" ry="108.45" transform="rotate(45 1762 1028.19)"/>
</g>
<g class="serif" font-size="36" text-anchor="middle">
<text x="1653.55" y="896.59" fill="#FFA500">38</text>
<text x="1762" y="954.43" fill="#fff">5</text>
<text x="1870.45" y="896.59" fill="#68228B">153</text>
<text x="1624.63" y="968.89" fill="#fff">7</text>
<text x="1689.7" y="1033.96" fill="#fff">2</text>
<text x="1762" y="1113.49" fill="#fff">2</text>
<text x="1834.3" y="1033.96" fill="#fff">1</text>
<text x="1899.37" y="968.89" fill="#fff">1</text>
<text x="1530.64" y="1033.96" fill="#00008B">171</text>
<text x="1631.86" y="1149.64" fill="#fff">15</text>
<text x="1707.78" y="1178.56" fill="#fff">0</text>
<text x="1762" y="1250.86" fill="#fff">10</text>
<text x="1816.22" y="1178.56" fill="#fff">4</text>
<text x="1892.14" y="1149.64" fill="#fff">3</text>
<text x="1993.36" y="1033.96" fill="#006400">13</text>
<text x="1498.6" y="856.4" fill="#00008B">D1</text>
<text x="2023.6" y="856.7" fill="#006400">D2</text>
<text x="1598.3" y="803.2" fill="#FFA500">D3</text>
<text x="1923.5" y="803.2" fill="#68228B">D4</text>
</g>
<g stroke="#000" stroke-width="2.8">
<line x1="1772.9" y1="913.6" x2="2116.1" y2="913.6"/>
<line x1="1818.4" y1="992.6" x2="2128.9" y2="992.6"/>
<line x1="1779.2" y1="1100.1" x2="2089.9" y2="1100.1"/>
<line x1="1411" y1="988.4" x2="1681.1" y2="988.4"/>
</g>
<text x="2129.8" y="792.2">PPP1R15A</text>
<text x="2129.8" y="827.15">RILPL2</text>
<text x="2129.8" y="862.1">CCL4</text>
<text x="2129.8" y="897.05">TNFAIP3</text>
<text x="2129.8" y="932">KLF6</text>
<text x="2151.7" y="1001.5">NFKBIA</text>
<text x="2120.7" y="1089.7">IL1B</text>
<text x="2120.7" y="1124.6">THBS1</text>
<text x="1311.2" y="973.7">DUSP2</text>
<text x="1311.2" y="1009.1">CCRL2</text>
<rect x="1118.3" y="1204.4" width="436.2" height="203.2" fill="none" stroke="#000" stroke-width="2.9"/>
<line x1="1525.5" y1="1229.3" x2="1619.8" y2="1170.1" stroke-width="2.8" stroke="#000"/>
<text x="1140.6" y="1251.8">MS4A7</text>
<text x="1140.6" y="1286.9">CREM</text>
<text x="1140.6" y="1322">IL1RN</text>
<text x="1140.6" y="1357.1">TRAF1</text>
<text x="1140.6" y="1392.2">BASP1</text>
<text x="1255.1" y="1251.8">MRPL52</text>
<text x="1255.1" y="1286.9">VEGFA</text>
<text x="1255.1" y="1322">MMP14</text>
<text x="1255.1" y="1357.1">SLC7A11</text>
<text x="1255.1" y="1392.2">SAT1</text>
<text x="1398" y="1251.8">CALM1</text>
<text x="1398" y="1286.9">CLEC4E</text>
<text x="1398" y="1322">IL1R2</text>
<text x="1398" y="1357.1">FTH1</text>
<text x="1398" y="1392.2">TNFRSF1B</text>
</g>
<g id="pe">
<g shape-rendering="crispEdges">
<rect x="118.9" y="1468.2" width="48.71" height="46.27" fill="#d1e5f0"/>
<rect x="167.31" y="1468.2" width="48.71" height="46.27" fill="#3f8ec0"/>
<rect x="215.72" y="1468.2" width="48.71" height="46.27" fill="#e98b6e"/>
<rect x="264.13" y="1468.2" width="48.71" height="46.27" fill="#81bad8"/>
<rect x="312.54" y="1468.2" width="48.71" height="46.27" fill="#f7f6f6"/>
<rect x="360.95" y="1468.2" width="48.71" height="46.27" fill="#8ac0db"/>
<rect x="409.36" y="1468.2" width="48.71" height="46.27" fill="#81bad8"/>
<rect x="457.77" y="1468.2" width="48.71" height="46.27" fill="#3885bc"/>
<rect x="506.18" y="1468.2" width="48.71" height="46.27" fill="#71b0d3"/>
<rect x="554.59" y="1468.2" width="48.71" height="46.27" fill="#2e77b5"/>
<rect x="603" y="1468.2" width="48.71" height="46.27" fill="#c5dfec"/>
<rect x="651.41" y="1468.2" width="48.71" height="46.27" fill="#a5cee3"/>
<rect x="699.82" y="1468.2" width="48.71" height="46.27" fill="#cae1ee"/>
<rect x="748.23" y="1468.2" width="48.71" height="46.27" fill="#a5cee3"/>
<rect x="796.64" y="1468.2" width="48.71" height="46.27" fill="#185493"/>
<rect x="845.05" y="1468.2" width="48.71" height="46.27" fill="#fae9df"/>
<rect x="893.46" y="1468.2" width="48.71" height="46.27" fill="#4997c5"/>
<rect x="941.87" y="1468.2" width="48.71" height="46.27" fill="#fbd0b9"/>
<rect x="990.28" y="1468.2" width="48.71" height="46.27" fill="#59a1ca"/>
<rect x="1038.69" y="1468.2" width="48.71" height="46.27" fill="#71b0d3"/>
<rect x="1087.1" y="1468.2" width="48.71" height="46.27" fill="#124984"/>
<rect x="1135.51" y="1468.2" width="48.71" height="46.27" fill="#bddbea"/>
<rect x="1183.92" y="1468.2" width="48.71" height="46.27" fill="#98c8e0"/>
<rect x="1232.33" y="1468.2" width="48.71" height="46.27" fill="#d1e5f0"/>
<rect x="1280.74" y="1468.2" width="48.71" height="46.27" fill="#276eb0"/>
<rect x="1329.15" y="1468.2" width="48.71" height="46.27" fill="#3480b9"/>
<rect x="118.9" y="1514.17" width="48.71" height="46.27" fill="#15508d"/>
<rect x="167.31" y="1514.17" width="48.71" height="46.27" fill="#073467"/>
<rect x="215.72" y="1514.17" width="48.71" height="46.27" fill="#1b5a9c"/>
<rect x="264.13" y="1514.17" width="48.71" height="46.27" fill="#0d3f76"/>
<rect x="312.54" y="1514.17" width="48.71" height="46.27" fill="#2e77b5"/>
<rect x="360.95" y="1514.17" width="48.71" height="46.27" fill="#2b73b3"/>
<rect x="409.36" y="1514.17" width="97.12" height="46.27" fill="#0d3f76"/>
<rect x="506.18" y="1514.17" width="97.12" height="46.27" fill="#124984"/>
<rect x="603" y="1514.17" width="48.71" height="46.27" fill="#276eb0"/>
<rect x="651.41" y="1514.17" width="48.71" height="46.27" fill="#2e77b5"/>
<rect x="699.82" y="1514.17" width="48.71" height="46.27" fill="#3480b9"/>
<rect x="748.23" y="1514.17" width="48.71" height="46.27" fill="#15508d"/>
<rect x="796.64" y="1514.17" width="48.71" height="46.27" fill="#053061"/>
<rect x="845.05" y="1514.17" width="48.71" height="46.27" fill="#6bacd1"/>
<rect x="893.46" y="1514.17" width="48.71" height="46.27" fill="#053061"/>
<rect x="941.87" y="1514.17" width="48.71" height="46.27" fill="#71b0d3"/>
<rect x="990.28" y="1514.17" width="48.71" height="46.27" fill="#185493"/>
<rect x="1038.69" y="1514.17" width="48.71" height="46.27" fill="#3885bc"/>
<rect x="1087.1" y="1514.17" width="48.71" height="46.27" fill="#276eb0"/>
<rect x="1135.51" y="1514.17" width="48.71" height="46.27" fill="#2065ab"/>
<rect x="1183.92" y="1514.17" width="48.71" height="46.27" fill="#073467"/>
<rect x="1232.33" y="1514.17" width="48.71" height="46.27" fill="#327cb7"/>
<rect x="1280.74" y="1514.17" width="48.71" height="46.27" fill="#053061"/>
<rect x="1329.15" y="1514.17" width="48.71" height="46.27" fill="#0d3f76"/>
<rect x="118.9" y="1560.14" width="48.71" height="46.27" fill="#b8d8e9"/>
<rect x="167.31" y="1560.14" width="48.71" height="46.27" fill="#2065ab"/>
<rect x="215.72" y="1560.14" width="48.71" height="46.27" fill="#67001f"/>
<rect x="264.13" y="1560.14" width="48.71" height="46.27" fill="#90c4dd"/>
<rect x="312.54" y="1560.14" width="48.71" height="46.27" fill="#59a1ca"/>
<rect x="360.95" y="1560.14" width="48.71" height="46.27" fill="#a21328"/>
<rect x="409.36" y="1560.14" width="48.71" height="46.27" fill="#62a7ce"/>
<rect x="457.77" y="1560.14" width="48.71" height="46.27" fill="#15508d"/>
<rect x="506.18" y="1560.14" width="48.71" height="46.27" fill="#2e77b5"/>
<rect x="554.59" y="1560.14" width="97.12" height="46.27" fill="#67001f"/>
<rect x="651.41" y="1560.14" width="48.71" height="46.27" fill="#fddbc7"/>
<rect x="699.82" y="1560.14" width="48.71" height="46.27" fill="#d4e6f1"/>
<rect x="748.23" y="1560.14" width="48.71" height="46.27" fill="#b1d5e7"/>
<rect x="796.64" y="1560.14" width="48.71" height="46.27" fill="#2065ab"/>
<rect x="845.05" y="1560.14" width="48.71" height="46.27" fill="#67001f"/>
<rect x="893.46" y="1560.14" width="48.71" height="46.27" fill="#acd2e5"/>
<rect x="941.87" y="1560.14" width="48.71" height="46.27" fill="#a5cee3"/>
<rect x="990.28" y="1560.14" width="48.71" height="46.27" fill="#90c4dd"/>
<rect x="1038.69" y="1560.14" width="48.71" height="46.27" fill="#59a1ca"/>
<rect x="1087.1" y="1560.14" width="48.71" height="46.27" fill="#67001f"/>
<rect x="1135.51" y="1560.14" width="48.71" height="46.27" fill="#f6af8e"/>
<rect x="1183.92" y="1560.14" width="48.71" height="46.27" fill="#3f8ec0"/>
<rect x="1232.33" y="1560.14" width="48.71" height="46.27" fill="#c5dfec"/>
<rect x="1280.74" y="1560.14" width="48.71" height="46.27" fill="#3480b9"/>
<rect x="1329.15" y="1560.14" width="48.71" height="46.27" fill="#67001f"/>
<rect x="118.9" y="1606.11" width="48.71" height="46.27" fill="#1e61a5"/>
<rect x="167.31" y="1606.11" width="48.71" height="46.27" fill="#0d3f76"/>
<rect x="215.72" y="1606.11" width="48.71" height="46.27" fill="#073467"/>
<rect x="264.13" y="1606.11" width="48.71" height="46.27" fill="#0a3b70"/>
<rect x="312.54" y="1606.11" width="97.12" height="46.27" fill="#15508d"/>
<rect x="409.36" y="1606.11" width="48.71" height="46.27" fill="#10457e"/>
<rect x="457.77" y="1606.11" width="48.71" height="46.27" fill="#073467"/>
<rect x="506.18" y="1606.11" width="48.71" height="46.27" fill="#124984"/>
<rect x="554.59" y="1606.11" width="48.71" height="46.27" fill="#59a1ca"/>
<rect x="603" y="1606.11" width="48.71" height="46.27" fill="#10457e"/>
<rect x="651.41" y="1606.11" width="48.71" height="46.27" fill="#1e61a5"/>
<rect x="699.82" y="1606.11" width="97.12" height="46.27" fill="#2065ab"/>
<rect x="796.64" y="1606.11" width="48.71" height="46.27" fill="#053061"/>
<rect x="845.05" y="1606.11" width="48.71" height="46.27" fill="#90c4dd"/>
<rect x="893.46" y="1606.11" width="48.71" height="46.27" fill="#0d3f76"/>
<rect x="941.87" y="1606.11" width="48.71" height="46.27" fill="#0a3b70"/>
<rect x="990.28" y="1606.11" width="48.71" height="46.27" fill="#4393c3"/>
<rect x="1038.69" y="1606.11" width="48.71" height="46.27" fill="#10457e"/>
<rect x="1087.1" y="1606.11" width="48.71" height="46.27" fill="#0d3f76"/>
<rect x="1135.51" y="1606.11" width="48.71" height="46.27" fill="#276eb0"/>
<rect x="1183.92" y="1606.11" width="48.71" height="46.27" fill="#053061"/>
<rect x="1232.33" y="1606.11" width="48.71" height="46.27" fill="#276eb0"/>
<rect x="1280.74" y="1606.11" width="97.12" height="46.27" fill="#053061"/>
<rect x="118.9" y="1652.08" width="97.12" height="46.27" fill="#67001f"/>
<rect x="215.72" y="1652.08" width="48.71" height="46.27" fill="#276eb0"/>
<rect x="264.13" y="1652.08" width="193.94" height="46.27" fill="#67001f"/>
<rect x="457.77" y="1652.08" width="48.71" height="46.27" fill="#1e61a5"/>
<rect x="506.18" y="1652.08" width="48.71" height="46.27" fill="#cf5246"/>
<rect x="554.59" y="1652.08" width="48.71" height="46.27" fill="#e7f0f4"/>
<rect x="603" y="1652.08" width="48.71" height="46.27" fill="#a21328"/>
<rect x="651.41" y="1652.08" width="48.71" height="46.27" fill="#67001f"/>
<rect x="699.82" y="1652.08" width="48.71" height="46.27" fill="#fbe6da"/>
<rect x="748.23" y="1652.08" width="97.12" height="46.27" fill="#67001f"/>
<rect x="845.05" y="1652.08" width="48.71" height="46.27" fill="#e27b62"/>
<rect x="893.46" y="1652.08" width="48.71" height="46.27" fill="#67001f"/>
<rect x="941.87" y="1652.08" width="48.71" height="46.27" fill="#fbe6da"/>
<rect x="990.28" y="1652.08" width="48.71" height="46.27" fill="#90c4dd"/>
<rect x="1038.69" y="1652.08" width="48.71" height="46.27" fill="#2065ab"/>
<rect x="1087.1" y="1652.08" width="48.71" height="46.27" fill="#276eb0"/>
<rect x="1135.51" y="1652.08" width="48.71" height="46.27" fill="#840924"/>
<rect x="1183.92" y="1652.08" width="145.53" height="46.27" fill="#67001f"/>
<rect x="1329.15" y="1652.08" width="48.71" height="46.27" fill="#f8bfa4"/>
<rect x="118.9" y="1698.05" width="48.71" height="46.27" fill="#b1d5e7"/>
<rect x="167.31" y="1698.05" width="48.71" height="46.27" fill="#3480b9"/>
<rect x="215.72" y="1698.05" width="48.71" height="46.27" fill="#1e61a5"/>
<rect x="264.13" y="1698.05" width="48.71" height="46.27" fill="#4997c5"/>
<rect x="312.54" y="1698.05" width="48.71" height="46.27" fill="#e4eef4"/>
<rect x="360.95" y="1698.05" width="48.71" height="46.27" fill="#3480b9"/>
<rect x="409.36" y="1698.05" width="48.71" height="46.27" fill="#81bad8"/>
<rect x="457.77" y="1698.05" width="48.71" height="46.27" fill="#15508d"/>
<rect x="506.18" y="1698.05" width="48.71" height="46.27" fill="#7bb6d6"/>
<rect x="554.59" y="1698.05" width="48.71" height="46.27" fill="#cae1ee"/>
<rect x="603" y="1698.05" width="48.71" height="46.27" fill="#3480b9"/>
<rect x="651.41" y="1698.05" width="48.71" height="46.27" fill="#9dcbe1"/>
<rect x="699.82" y="1698.05" width="48.71" height="46.27" fill="#81bad8"/>
<rect x="748.23" y="1698.05" width="48.71" height="46.27" fill="#c6413e"/>
<rect x="796.64" y="1698.05" width="48.71" height="46.27" fill="#1b5a9c"/>
<rect x="845.05" y="1698.05" width="48.71" height="46.27" fill="#ee9677"/>
<rect x="893.46" y="1698.05" width="48.71" height="46.27" fill="#b1d5e7"/>
<rect x="941.87" y="1698.05" width="48.71" height="46.27" fill="#a5cee3"/>
<rect x="990.28" y="1698.05" width="48.71" height="46.27" fill="#67001f"/>
<rect x="1038.69" y="1698.05" width="48.71" height="46.27" fill="#15508d"/>
<rect x="1087.1" y="1698.05" width="48.71" height="46.27" fill="#10457e"/>
<rect x="1135.51" y="1698.05" width="48.71" height="46.27" fill="#e7f0f4"/>
<rect x="1183.92" y="1698.05" width="48.71" height="46.27" fill="#3f8ec0"/>
<rect x="1232.33" y="1698.05" width="48.71" height="46.27" fill="#e7f0f4"/>
<rect x="1280.74" y="1698.05" width="48.71" height="46.27" fill="#246aae"/>
<rect x="1329.15" y="1698.05" width="48.71" height="46.27" fill="#185493"/>
<rect x="118.9" y="1744.02" width="48.71" height="46.27" fill="#073467"/>
<rect x="167.31" y="1744.02" width="48.71" height="46.27" fill="#0a3b70"/>
<rect x="215.72" y="1744.02" width="97.12" height="46.27" fill="#053061"/>
<rect x="312.54" y="1744.02" width="48.71" height="46.27" fill="#276eb0"/>
<rect x="360.95" y="1744.02" width="48.71" height="46.27" fill="#0a3b70"/>
<rect x="409.36" y="1744.02" width="48.71" height="46.27" fill="#053061"/>
<rect x="457.77" y="1744.02" width="48.71" height="46.27" fill="#2b73b3"/>
<rect x="506.18" y="1744.02" width="48.71" height="46.27" fill="#0a3b70"/>
<rect x="554.59" y="1744.02" width="97.12" height="46.27" fill="#053061"/>
<rect x="651.41" y="1744.02" width="48.71" height="46.27" fill="#0a3b70"/>
<rect x="699.82" y="1744.02" width="48.71" height="46.27" fill="#1b5a9c"/>
<rect x="748.23" y="1744.02" width="97.12" height="46.27" fill="#053061"/>
<rect x="845.05" y="1744.02" width="48.71" height="46.27" fill="#1b5a9c"/>
<rect x="893.46" y="1744.02" width="48.71" height="46.27" fill="#bddbea"/>
<rect x="941.87" y="1744.02" width="48.71" height="46.27" fill="#2b73b3"/>
<rect x="990.28" y="1744.02" width="145.53" height="46.27" fill="#053061"/>
<rect x="1135.51" y="1744.02" width="48.71" height="46.27" fill="#1e61a5"/>
<rect x="1183.92" y="1744.02" width="193.94" height="46.27" fill="#053061"/>
<rect x="118.9" y="1789.99" width="484.4" height="46.27" fill="#053061"/>
<rect x="603" y="1789.99" width="48.71" height="46.27" fill="#0d3f76"/>
<rect x="651.41" y="1789.99" width="242.35" height="46.27" fill="#053061"/>
<rect x="893.46" y="1789.99" width="48.71" height="46.27" fill="#0a3b70"/>
<rect x="941.87" y="1789.99" width="435.99" height="46.27" fill="#053061"/>
<rect x="118.9" y="1835.96" width="48.71" height="46.27" fill="#e7f0f4"/>
<rect x="167.31" y="1835.96" width="48.71" height="46.27" fill="#b1d5e7"/>
<rect x="215.72" y="1835.96" width="48.71" height="46.27" fill="#1b5a9c"/>
<rect x="264.13" y="1835.96" width="48.71" height="46.27" fill="#3480b9"/>
<rect x="312.54" y="1835.96" width="48.71" height="46.27" fill="#ecf2f5"/>
<rect x="360.95" y="1835.96" width="48.71" height="46.27" fill="#71b0d3"/>
<rect x="409.36" y="1835.96" width="48.71" height="46.27" fill="#3c8abe"/>
<rect x="457.77" y="1835.96" width="97.12" height="46.27" fill="#67001f"/>
<rect x="554.59" y="1835.96" width="48.71" height="46.27" fill="#4393c3"/>
<rect x="603" y="1835.96" width="48.71" height="46.27" fill="#185493"/>
<rect x="651.41" y="1835.96" width="48.71" height="46.27" fill="#e0ecf3"/>
<rect x="699.82" y="1835.96" width="48.71" height="46.27" fill="#67001f"/>
<rect x="748.23" y="1835.96" width="48.71" height="46.27" fill="#1e61a5"/>
<rect x="796.64" y="1835.96" width="48.71" height="46.27" fill="#124984"/>
<rect x="845.05" y="1835.96" width="48.71" height="46.27" fill="#fae9df"/>
<rect x="893.46" y="1835.96" width="48.71" height="46.27" fill="#b61f2e"/>
<rect x="941.87" y="1835.96" width="48.71" height="46.27" fill="#67001f"/>
<rect x="990.28" y="1835.96" width="48.71" height="46.27" fill="#a5cee3"/>
<rect x="1038.69" y="1835.96" width="48.71" height="46.27" fill="#67001f"/>
<rect x="1087.1" y="1835.96" width="48.71" height="46.27" fill="#2b73b3"/>
<rect x="1135.51" y="1835.96" width="48.71" height="46.27" fill="#67001f"/>
<rect x="1183.92" y="1835.96" width="48.71" height="46.27" fill="#2e77b5"/>
<rect x="1232.33" y="1835.96" width="48.71" height="46.27" fill="#f3f5f6"/>
<rect x="1280.74" y="1835.96" width="48.71" height="46.27" fill="#f8bb9e"/>
<rect x="1329.15" y="1835.96" width="48.71" height="46.27" fill="#053061"/>
<rect x="118.9" y="1881.93" width="48.71" height="46.27" fill="#3f8ec0"/>
<rect x="167.31" y="1881.93" width="48.71" height="46.27" fill="#327cb7"/>
<rect x="215.72" y="1881.93" width="48.71" height="46.27" fill="#1e61a5"/>
<rect x="264.13" y="1881.93" width="48.71" height="46.27" fill="#246aae"/>
<rect x="312.54" y="1881.93" width="48.71" height="46.27" fill="#d86551"/>
<rect x="360.95" y="1881.93" width="48.71" height="46.27" fill="#276eb0"/>
<rect x="409.36" y="1881.93" width="48.71" height="46.27" fill="#1e61a5"/>
<rect x="457.77" y="1881.93" width="48.71" height="46.27" fill="#246aae"/>
<rect x="506.18" y="1881.93" width="48.71" height="46.27" fill="#8ac0db"/>
<rect x="554.59" y="1881.93" width="48.71" height="46.27" fill="#6bacd1"/>
<rect x="603" y="1881.93" width="48.71" height="46.27" fill="#053061"/>
<rect x="651.41" y="1881.93" width="48.71" height="46.27" fill="#4393c3"/>
<rect x="699.82" y="1881.93" width="48.71" height="46.27" fill="#cae1ee"/>
<rect x="748.23" y="1881.93" width="48.71" height="46.27" fill="#2b73b3"/>
<rect x="796.64" y="1881.93" width="48.71" height="46.27" fill="#053061"/>
<rect x="845.05" y="1881.93" width="48.71" height="46.27" fill="#f3f5f6"/>
<rect x="893.46" y="1881.93" width="48.71" height="46.27" fill="#c5dfec"/>
<rect x="941.87" y="1881.93" width="48.71" height="46.27" fill="#f7f6f6"/>
<rect x="990.28" y="1881.93" width="48.71" height="46.27" fill="#2e77b5"/>
<rect x="1038.69" y="1881.93" width="48.71" height="46.27" fill="#1b5a9c"/>
<rect x="1087.1" y="1881.93" width="48.71" height="46.27" fill="#053061"/>
<rect x="1135.51" y="1881.93" width="48.71" height="46.27" fill="#71b0d3"/>
<rect x="1183.92" y="1881.93" width="48.71" height="46.27" fill="#124984"/>
<rect x="1232.33" y="1881.93" width="48.71" height="46.27" fill="#62a7ce"/>
<rect x="1280.74" y="1881.93" width="48.71" height="46.27" fill="#2b73b3"/>
<rect x="1329.15" y="1881.93" width="48.71" height="46.27" fill="#053061"/>
</g>
<path d="M167.31 1468.2V1927.9M215.72 1468.2V1927.9M264.13 1468.2V1927.9M312.54 1468.2V1927.9M360.95 1468.2V1927.9M409.36 1468.2V1927.9M457.77 1468.2V1927.9M506.18 1468.2V1927.9M554.59 1468.2V1927.9M603 1468.2V1927.9M651.41 1468.2V1927.9M699.82 1468.2V1927.9M748.23 1468.2V1927.9M796.64 1468.2V1927.9M845.05 1468.2V1927.9M893.46 1468.2V1927.9M941.87 1468.2V1927.9M990.28 1468.2V1927.9M1038.69 1468.2V1927.9M1087.1 1468.2V1927.9M1135.51 1468.2V1927.9M1183.92 1468.2V1927.9M1232.33 1468.2V1927.9M1280.74 1468.2V1927.9M1329.15 1468.2V1927.9M118.9 1514.17H1377.56M118.9 1560.14H1377.56M118.9 1606.11H1377.56M118.9 1652.08H1377.56M118.9 1698.05H1377.56M118.9 1744.02H1377.56M118.9 1789.99H1377.56M118.9 1835.96H1377.56M118.9 1881.93H1377.56" stroke="#909090" stroke-width="0.7" stroke-opacity="0.7" fill="none"/>
<line x1="118.9" y1="1560.14" x2="1377.56" y2="1560.14" stroke-width="4.7" stroke="#000"/>
<line x1="118.9" y1="1652.08" x2="1377.56" y2="1652.08" stroke-width="4.7" stroke="#000"/>
<line x1="118.9" y1="1744.02" x2="1377.56" y2="1744.02" stroke-width="4.7" stroke="#000"/>
<line x1="118.9" y1="1835.96" x2="1377.56" y2="1835.96" stroke-width="4.7" stroke="#000"/>
<rect x="118.9" y="1468.2" width="1258.66" height="459.7" fill="none" stroke="#000" stroke-width="5.8"/>
<g stroke="#000" stroke-width="3.5">
<line x1="110.4" y1="1491.18" x2="116" y2="1491.18"/>
<line x1="110.4" y1="1537.15" x2="116" y2="1537.15"/>
<line x1="110.4" y1="1583.12" x2="116" y2="1583.12"/>
<line x1="110.4" y1="1629.1" x2="116" y2="1629.1"/>
<line x1="110.4" y1="1675.07" x2="116" y2="1675.07"/>
<line x1="110.4" y1="1721.04" x2="116" y2="1721.04"/>
<line x1="110.4" y1="1767.01" x2="116" y2="1767.01"/>
<line x1="110.4" y1="1812.97" x2="116" y2="1812.97"/>
<line x1="110.4" y1="1858.95" x2="116" y2="1858.95"/>
<line x1="110.4" y1="1904.91" x2="116" y2="1904.91"/>
<line x1="143.11" y1="1930.8" x2="143.11" y2="1936.4"/>
<line x1="191.51" y1="1930.8" x2="191.51" y2="1936.4"/>
<line x1="239.93" y1="1930.8" x2="239.93" y2="1936.4"/>
<line x1="288.34" y1="1930.8" x2="288.34" y2="1936.4"/>
<line x1="336.75" y1="1930.8" x2="336.75" y2="1936.4"/>
<line x1="385.15" y1="1930.8" x2="385.15" y2="1936.4"/>
<line x1="433.56" y1="1930.8" x2="433.56" y2="1936.4"/>
<line x1="481.98" y1="1930.8" x2="481.98" y2="1936.4"/>
<line x1="530.38" y1="1930.8" x2="530.38" y2="1936.4"/>
<line x1="578.79" y1="1930.8" x2="578.79" y2="1936.4"/>
<line x1="627.2" y1="1930.8" x2="627.2" y2="1936.4"/>
<line x1="675.61" y1="1930.8" x2="675.61" y2="1936.4"/>
<line x1="724.02" y1="1930.8" x2="724.02" y2="1936.4"/>
<line x1="772.43" y1="1930.8" x2="772.43" y2="1936.4"/>
<line x1="820.84" y1="1930.8" x2="820.84" y2="1936.4"/>
<line x1="869.25" y1="1930.8" x2="869.25" y2="1936.4"/>
<line x1="917.66" y1="1930.8" x2="917.66" y2="1936.4"/>
<line x1="966.07" y1="1930.8" x2="966.07" y2="1936.4"/>
<line x1="1014.48" y1="1930.8" x2="1014.48" y2="1936.4"/>
<line x1="1062.89" y1="1930.8" x2="1062.89" y2="1936.4"/>
<line x1="1111.31" y1="1930.8" x2="1111.31" y2="1936.4"/>
<line x1="1159.71" y1="1930.8" x2="1159.71" y2="1936.4"/>
<line x1="1208.12" y1="1930.8" x2="1208.12" y2="1936.4"/>
<line x1="1256.54" y1="1930.8" x2="1256.54" y2="1936.4"/>
<line x1="1304.94" y1="1930.8" x2="1304.94" y2="1936.4"/>
<line x1="1353.36" y1="1930.8" x2="1353.36" y2="1936.4"/>
</g>
<g text-anchor="end">
<text x="102.9" y="1501.18">0_AAA</text>
<text x="97.8" y="1547.15">0_Ctrl</text>
<text x="102.9" y="1593.12">1_AAA</text>
<text x="97.8" y="1639.1">1_Ctrl</text>
<text x="102.9" y="1685.07">2_AAA</text>
<text x="97.8" y="1731.04">2_Ctrl</text>
<text x="102.9" y="1777.01">3_AAA</text>
<text x="97.8" y="1822.97">3_Ctrl</text>
<text x="102.9" y="1868.95">4_AAA</text>
<text x="97.8" y="1914.91">4_Ctrl</text>
<text transform="translate(150.11 1943.3) rotate(-90)">PPP1R15A</text>
<text transform="translate(198.51 1943.3) rotate(-90)">RILPL2</text>
<text transform="translate(246.93 1943.3) rotate(-90)">CCL4</text>
<text transform="translate(295.34 1943.3) rotate(-90)">TNFAIP3</text>
<text transform="translate(343.75 1943.3) rotate(-90)">KLF6</text>
<text transform="translate(392.15 1943.3) rotate(-90)">PLAUR</text>
<text transform="translate(440.56 1943.3) rotate(-90)">NFKBIA</text>
<text transform="translate(488.98 1943.3) rotate(-90)">MS4A7</text>
<text transform="translate(537.38 1943.3) rotate(-90)">CREM</text>
<text transform="translate(585.79 1943.3) rotate(-90)">IL1RN</text>
<text transform="translate(634.2 1943.3) rotate(-90)">TRAF1</text>
<text transform="translate(682.61 1943.3) rotate(-90)">BASP1</text>
<text transform="translate(731.02 1943.3) rotate(-90)">CALM1</text>
<text transform="translate(779.43 1943.3) rotate(-90)">CLEC4E</text>
<text transform="translate(827.84 1943.3) rotate(-90)">IL1R2</text>
<text transform="translate(876.25 1943.3) rotate(-90)">FTH1</text>
<text transform="translate(924.66 1943.3) rotate(-90)">TNFRSF1B</text>
<text transform="translate(973.07 1943.3) rotate(-90)">MRPL52</text>
<text transform="translate(1021.48 1943.3) rotate(-90)">VEGFA</text>
<text transform="translate(1069.89 1943.3) rotate(-90)">MMP14</text>
<text transform="translate(1118.31 1943.3) rotate(-90)">SLC7A11</text>
<text transform="translate(1166.71 1943.3) rotate(-90)">SAT1</text>
<text transform="translate(1215.12 1943.3) rotate(-90)">DUSP2</text>
<text transform="translate(1263.54 1943.3) rotate(-90)">CCRL2</text>
<text transform="translate(1311.94 1943.3) rotate(-90)">THBS1</text>
<text transform="translate(1360.36 1943.3) rotate(-90)">IL1B</text>
</g>
<g shape-rendering="crispEdges">
<rect x="120" y="2140.1" width="860.7" height="45.7" fill="#67001f"/>
<rect x="980.4" y="2140.1" width="48.1" height="45.7" fill="#053061"/>
<rect x="1028.2" y="2140.1" width="334.9" height="45.7" fill="#67001f"/>
<rect x="120" y="2185.5" width="860.7" height="45.7" fill="#053061"/>
<rect x="980.4" y="2185.5" width="48.1" height="45.7" fill="#67001f"/>
<rect x="1028.2" y="2185.5" width="334.9" height="45.7" fill="#053061"/>
</g>
<path d="M167.8 2140.1V2230.9M215.6 2140.1V2230.9M263.4 2140.1V2230.9M311.2 2140.1V2230.9M359 2140.1V2230.9M406.8 2140.1V2230.9M454.6 2140.1V2230.9M502.4 2140.1V2230.9M550.2 2140.1V2230.9M598 2140.1V2230.9M645.8 2140.1V2230.9M693.6 2140.1V2230.9M741.4 2140.1V2230.9M789.2 2140.1V2230.9M837 2140.1V2230.9M884.8 2140.1V2230.9M932.6 2140.1V2230.9M980.4 2140.1V2230.9M1028.2 2140.1V2230.9M1076 2140.1V2230.9M1123.8 2140.1V2230.9M1171.6 2140.1V2230.9M1219.4 2140.1V2230.9M1267.2 2140.1V2230.9M1315 2140.1V2230.9M120 2185.5H1362.8" stroke="#909090" stroke-width="0.7" stroke-opacity="0.7" fill="none"/>
<rect x="120" y="2140.1" width="1242.8" height="90.8" fill="none" stroke="#000" stroke-width="5.8"/>
<g stroke="#000" stroke-width="3.5">
<line x1="111.5" y1="2162.8" x2="117.1" y2="2162.8"/>
<line x1="111.5" y1="2208.2" x2="117.1" y2="2208.2"/>
<line x1="143.9" y1="2233.8" x2="143.9" y2="2239.4"/>
<line x1="191.7" y1="2233.8" x2="191.7" y2="2239.4"/>
<line x1="239.5" y1="2233.8" x2="239.5" y2="2239.4"/>
<line x1="287.3" y1="2233.8" x2="287.3" y2="2239.4"/>
<line x1="335.1" y1="2233.8" x2="335.1" y2="2239.4"/>
<line x1="382.9" y1="2233.8" x2="382.9" y2="2239.4"/>
<line x1="430.7" y1="2233.8" x2="430.7" y2="2239.4"/>
<line x1="478.5" y1="2233.8" x2="478.5" y2="2239.4"/>
<line x1="526.3" y1="2233.8" x2="526.3" y2="2239.4"/>
<line x1="574.1" y1="2233.8" x2="574.1" y2="2239.4"/>
<line x1="621.9" y1="2233.8" x2="621.9" y2="2239.4"/>
<line x1="669.7" y1="2233.8" x2="669.7" y2="2239.4"/>
<line x1="717.5" y1="2233.8" x2="717.5" y2="2239.4"/>
<line x1="765.3" y1="2233.8" x2="765.3" y2="2239.4"/>
<line x1="813.1" y1="2233.8" x2="813.1" y2="2239.4"/>
<line x1="860.9" y1="2233.8" x2="860.9" y2="2239.4"/>
<line x1="908.7" y1="2233.8" x2="908.7" y2="2239.4"/>
<line x1="956.5" y1="2233.8" x2="956.5" y2="2239.4"/>
<line x1="1004.3" y1="2233.8" x2="1004.3" y2="2239.4"/>
<line x1="1052.1" y1="2233.8" x2="1052.1" y2="2239.4"/>
<line x1="1099.9" y1="2233.8" x2="1099.9" y2="2239.4"/>
<line x1="1147.7" y1="2233.8" x2="1147.7" y2="2239.4"/>
<line x1="1195.5" y1="2233.8" x2="1195.5" y2="2239.4"/>
<line x1="1243.3" y1="2233.8" x2="1243.3" y2="2239.4"/>
<line x1="1291.1" y1="2233.8" x2="1291.1" y2="2239.4"/>
<line x1="1338.9" y1="2233.8" x2="1338.9" y2="2239.4"/>
</g>
<g text-anchor="end">
<text x="104.1" y="2173.2">AAA</text>
<text x="100.3" y="2218.6">Ctrl</text>
<text transform="translate(150.7 2248.3) rotate(-90)">PPP1R15A</text>
<text transform="translate(198.5 2248.3) rotate(-90)">RILPL2</text>
<text transform="translate(246.3 2248.3) rotate(-90)">CCL4</text>
<text transform="translate(294.1 2248.3) rotate(-90)">TNFAIP3</text>
<text transform="translate(341.9 2248.3) rotate(-90)">KLF6</text>
<text transform="translate(389.7 2248.3) rotate(-90)">PLAUR</text>
<text transform="translate(437.5 2248.3) rotate(-90)">NFKBIA</text>
<text transform="translate(485.3 2248.3) rotate(-90)">MS4A7</text>
<text transform="translate(533.1 2248.3) rotate(-90)">CREM</text>
<text transform="translate(580.9 2248.3) rotate(-90)">IL1RN</text>
<text transform="translate(628.7 2248.3) rotate(-90)">TRAF1</text>
<text transform="translate(676.5 2248.3) rotate(-90)">BASP1</text>
<text transform="translate(724.3 2248.3) rotate(-90)">CALM1</text>
<text transform="translate(772.1 2248.3) rotate(-90)">CLEC4E</text>
<text transform="translate(819.9 2248.3) rotate(-90)">IL1R2</text>
<text transform="translate(867.7 2248.3) rotate(-90)">FTH1</text>
<text transform="translate(915.5 2248.3) rotate(-90)">TNFRSF1B</text>
<text transform="translate(963.3 2248.3) rotate(-90)">MRPL52</text>
<text transform="translate(1011.1 2248.3) rotate(-90)">VEGFA</text>
<text transform="translate(1058.9 2248.3) rotate(-90)">MMP14</text>
<text transform="translate(1106.7 2248.3) rotate(-90)">SLC7A11</text>
<text transform="translate(1154.5 2248.3) rotate(-90)">SAT1</text>
<text transform="translate(1202.3 2248.3) rotate(-90)">DUSP2</text>
<text transform="translate(1250.1 2248.3) rotate(-90)">CCRL2</text>
<text transform="translate(1297.9 2248.3) rotate(-90)">THBS1</text>
<text transform="translate(1345.7 2248.3) rotate(-90)">IL1B</text>
</g>
<linearGradient id="ge1" x1="0" y1="0" x2="1" y2="0"><stop offset="0" stop-color="#053061"/><stop offset="0.05" stop-color="#124984"/><stop offset="0.1" stop-color="#2065ab"/><stop offset="0.15" stop-color="#327cb7"/><stop offset="0.2" stop-color="#4393c3"/><stop offset="0.25" stop-color="#6bacd1"/><stop offset="0.3" stop-color="#90c4dd"/><stop offset="0.35" stop-color="#b1d5e7"/><stop offset="0.4" stop-color="#d1e5f0"/><stop offset="0.45" stop-color="#e4eef4"/><stop offset="0.5" stop-color="#f7f6f6"/><stop offset="0.55" stop-color="#fae9df"/><stop offset="0.6" stop-color="#fddbc7"/><stop offset="0.65" stop-color="#f8bfa4"/><stop offset="0.7" stop-color="#f3a481"/><stop offset="0.75" stop-color="#e48066"/><stop offset="0.8" stop-color="#d6604d"/><stop offset="0.85" stop-color="#c43b3c"/><stop offset="0.9" stop-color="#b1182b"/><stop offset="0.95" stop-color="#8a0b25"/><stop offset="1" stop-color="#67001f"/></linearGradient>
<rect x="1422.2" y="1904.3" width="197" height="23" fill="url(#ge1)" stroke="#000" stroke-width="3"/>
<g stroke="#000" stroke-width="3">
<line x1="1422.2" y1="1927.3" x2="1422.2" y2="1934.8"/>
<line x1="1520.7" y1="1927.3" x2="1520.7" y2="1934.8"/>
<line x1="1619.2" y1="1927.3" x2="1619.2" y2="1934.8"/>
</g>
<text text-anchor="middle" x="1421" y="1965.8">0.0</text>
<text text-anchor="middle" x="1519.5" y="1965.8">0.5</text>
<text text-anchor="middle" x="1618" y="1965.8">1.0</text>
<text text-anchor="middle" x="1513" y="1858.2">column scaled</text>
<text text-anchor="middle" x="1515.4" y="1889.3">expression</text>
<linearGradient id="ge2" x1="0" y1="0" x2="1" y2="0"><stop offset="0" stop-color="#053061"/><stop offset="0.05" stop-color="#124984"/><stop offset="0.1" stop-color="#2065ab"/><stop offset="0.15" stop-color="#327cb7"/><stop offset="0.2" stop-color="#4393c3"/><stop offset="0.25" stop-color="#6bacd1"/><stop offset="0.3" stop-color="#90c4dd"/><stop offset="0.35" stop-color="#b1d5e7"/><stop offset="0.4" stop-color="#d1e5f0"/><stop offset="0.45" stop-color="#e4eef4"/><stop offset="0.5" stop-color="#f7f6f6"/><stop offset="0.55" stop-color="#fae9df"/><stop offset="0.6" stop-color="#fddbc7"/><stop offset="0.65" stop-color="#f8bfa4"/><stop offset="0.7" stop-color="#f3a481"/><stop offset="0.75" stop-color="#e48066"/><stop offset="0.8" stop-color="#d6604d"/><stop offset="0.85" stop-color="#c43b3c"/><stop offset="0.9" stop-color="#b1182b"/><stop offset="0.95" stop-color="#8a0b25"/><stop offset="1" stop-color="#67001f"/></linearGradient>
<rect x="1407.4" y="2207.1" width="194" height="23" fill="url(#ge2)" stroke="#000" stroke-width="3"/>
<g stroke="#000" stroke-width="3">
<line x1="1407.4" y1="2230.1" x2="1407.4" y2="2237.6"/>
<line x1="1504.4" y1="2230.1" x2="1504.4" y2="2237.6"/>
<line x1="1601.4" y1="2230.1" x2="1601.4" y2="2237.6"/>
</g>
<text text-anchor="middle" x="1406.2" y="2268.1">0.0</text>
<text text-anchor="middle" x="1503.2" y="2268.1">0.5</text>
<text text-anchor="middle" x="1600.2" y="2268.1">1.0</text>
<text text-anchor="middle" x="1497.8" y="2161.5">column scaled</text>
<text text-anchor="middle" x="1500.2" y="2192.3">expression</text>
</g>
<g id="pf">
<g stroke="#333333" stroke-width="4.3" stroke-linejoin="round" stroke-linecap="round" fill="none">
<path d="M1790.18 1467.14C1790.42 1469.69 1791.17 1476.5 1791.61 1482.45C1792.05 1488.4 1792.49 1496.05 1792.83 1502.86C1793.17 1509.66 1793.48 1516.46 1793.65 1523.27C1793.82 1530.07 1793.92 1536.87 1793.86 1543.67C1793.79 1550.48 1793.51 1557.28 1793.24 1564.08C1792.97 1570.88 1792.6 1577.69 1792.22 1584.49C1791.85 1591.29 1791.41 1598.1 1791 1604.9C1790.59 1611.7 1790.15 1618.5 1789.77 1625.31C1789.4 1632.11 1788.89 1640.61 1788.75 1645.71C1788.62 1650.82 1788.72 1652.52 1788.96 1655.92C1789.2 1659.32 1789.57 1662.72 1790.18 1666.12C1790.79 1669.52 1791.68 1672.93 1792.63 1676.33C1793.58 1679.73 1794.77 1683.13 1795.9 1686.53C1797.02 1689.93 1798.21 1693.33 1799.37 1696.73C1800.52 1700.14 1801.92 1703.54 1802.83 1706.94C1803.75 1710.34 1804.43 1713.91 1804.88 1717.14C1805.32 1720.37 1805.39 1724.8 1805.49 1726.33L1766.71 1726.33C1766.81 1724.8 1766.88 1720.37 1767.32 1717.14C1767.77 1713.91 1768.45 1710.34 1769.37 1706.94C1770.28 1703.54 1771.68 1700.14 1772.83 1696.73C1773.99 1693.33 1775.18 1689.93 1776.3 1686.53C1777.43 1683.13 1778.62 1679.73 1779.57 1676.33C1780.52 1672.93 1781.41 1669.52 1782.02 1666.12C1782.63 1662.72 1783 1659.32 1783.24 1655.92C1783.48 1652.52 1783.58 1650.82 1783.45 1645.71C1783.31 1640.61 1782.8 1632.11 1782.43 1625.31C1782.05 1618.5 1781.61 1611.7 1781.2 1604.9C1780.79 1598.1 1780.35 1591.29 1779.98 1584.49C1779.6 1577.69 1779.23 1570.88 1778.96 1564.08C1778.69 1557.28 1778.41 1550.48 1778.34 1543.67C1778.28 1536.87 1778.38 1530.07 1778.55 1523.27C1778.72 1516.46 1779.03 1509.66 1779.37 1502.86C1779.71 1496.05 1780.15 1488.4 1780.59 1482.45C1781.03 1476.5 1781.78 1469.69 1782.02 1467.14Z" fill="#F8766D"/>
<path d="M1823.5 1497.14V1726.33M1804.7 1726.33H1842.3"/>
<path d="M1871.02 1394.69C1871.06 1396.73 1870.96 1403.71 1871.23 1406.94C1871.5 1410.17 1871.94 1411.7 1872.66 1414.08C1873.37 1416.46 1874.02 1418.33 1875.51 1421.22C1877.01 1424.12 1879.94 1428.03 1881.64 1431.43C1883.34 1434.83 1884.66 1438.23 1885.72 1441.63C1886.77 1445.03 1887.49 1448.44 1887.96 1451.84C1888.44 1455.24 1888.61 1458.64 1888.58 1462.04C1888.54 1465.44 1888.24 1468.84 1887.76 1472.24C1887.28 1475.65 1886.74 1477.35 1885.72 1482.45C1884.7 1487.55 1882.86 1496.05 1881.64 1502.86C1880.41 1509.66 1879.39 1516.46 1878.37 1523.27C1877.35 1530.07 1876.33 1536.87 1875.51 1543.67C1874.7 1550.48 1874.09 1557.28 1873.47 1564.08C1872.86 1570.88 1872.28 1577.69 1871.84 1584.49C1871.4 1591.29 1871.02 1594.69 1870.82 1604.9C1870.62 1615.1 1870.62 1632.11 1870.62 1645.71C1870.62 1659.32 1870.72 1674.63 1870.82 1686.53C1870.92 1698.44 1871.16 1710.51 1871.23 1717.14C1871.3 1723.78 1871.23 1724.8 1871.23 1726.33L1868.37 1726.33C1868.37 1724.8 1868.3 1723.78 1868.37 1717.14C1868.44 1710.51 1868.68 1698.44 1868.78 1686.53C1868.88 1674.63 1868.98 1659.32 1868.98 1645.71C1868.98 1632.11 1868.98 1615.1 1868.78 1604.9C1868.58 1594.69 1868.2 1591.29 1867.76 1584.49C1867.32 1577.69 1866.74 1570.88 1866.13 1564.08C1865.51 1557.28 1864.9 1550.48 1864.09 1543.67C1863.27 1536.87 1862.25 1530.07 1861.23 1523.27C1860.21 1516.46 1859.19 1509.66 1857.96 1502.86C1856.74 1496.05 1854.9 1487.55 1853.88 1482.45C1852.86 1477.35 1852.32 1475.65 1851.84 1472.24C1851.36 1468.84 1851.06 1465.44 1851.02 1462.04C1850.99 1458.64 1851.16 1455.24 1851.64 1451.84C1852.11 1448.44 1852.83 1445.03 1853.88 1441.63C1854.94 1438.23 1856.26 1434.83 1857.96 1431.43C1859.66 1428.03 1862.59 1424.12 1864.09 1421.22C1865.58 1418.33 1866.23 1416.46 1866.94 1414.08C1867.66 1411.7 1868.1 1410.17 1868.37 1406.94C1868.64 1403.71 1868.54 1396.73 1868.58 1394.69Z" fill="#F8766D"/>
<path d="M1907.6 1505.92V1726.33M1888.8 1726.33H1926.4"/>
<path d="M1958.4 1447.76C1958.84 1450.14 1959.93 1456.26 1961.06 1462.04C1962.18 1467.82 1963.88 1475.65 1965.14 1482.45C1966.4 1489.25 1967.52 1496.05 1968.61 1502.86C1969.69 1509.66 1970.99 1516.46 1971.67 1523.27C1972.35 1530.07 1972.62 1536.87 1972.69 1543.67C1972.76 1550.48 1972.42 1557.28 1972.08 1564.08C1971.74 1570.88 1971.06 1577.69 1970.65 1584.49C1970.24 1591.29 1970.2 1598.1 1969.63 1604.9C1969.05 1611.7 1968.37 1618.5 1967.18 1625.31C1965.99 1632.11 1964.05 1638.91 1962.48 1645.71C1960.92 1652.52 1958.64 1661.02 1957.79 1666.12C1956.94 1671.22 1957.18 1672.93 1957.38 1676.33C1957.59 1679.73 1958.16 1681.43 1959.01 1686.53C1959.86 1691.63 1961.67 1700.31 1962.48 1706.94C1963.3 1713.57 1963.67 1723.1 1963.91 1726.33L1942.69 1726.33C1942.93 1723.1 1943.3 1713.57 1944.12 1706.94C1944.93 1700.31 1946.74 1691.63 1947.59 1686.53C1948.44 1681.43 1949.01 1679.73 1949.22 1676.33C1949.42 1672.93 1949.66 1671.22 1948.81 1666.12C1947.96 1661.02 1945.68 1652.52 1944.12 1645.71C1942.55 1638.91 1940.61 1632.11 1939.42 1625.31C1938.23 1618.5 1937.55 1611.7 1936.97 1604.9C1936.4 1598.1 1936.36 1591.29 1935.95 1584.49C1935.54 1577.69 1934.86 1570.88 1934.52 1564.08C1934.18 1557.28 1933.84 1550.48 1933.91 1543.67C1933.98 1536.87 1934.25 1530.07 1934.93 1523.27C1935.61 1516.46 1936.91 1509.66 1937.99 1502.86C1939.08 1496.05 1940.2 1489.25 1941.46 1482.45C1942.72 1475.65 1944.42 1467.82 1945.54 1462.04C1946.67 1456.26 1947.76 1450.14 1948.2 1447.76Z" fill="#F8766D"/>
<path d="M1992.43 1483.47C1992.46 1490.1 1992.33 1514.93 1992.63 1523.27C1992.94 1531.6 1993.59 1530.07 1994.27 1533.47C1994.95 1536.87 1995.97 1538.57 1996.71 1543.67C1997.46 1548.78 1998.35 1558.98 1998.76 1564.08C1999.16 1569.18 1999.16 1570.88 1999.16 1574.29C1999.16 1577.69 1999.1 1579.39 1998.76 1584.49C1998.41 1589.59 1997.56 1598.1 1997.12 1604.9C1996.68 1611.7 1996.27 1618.5 1996.1 1625.31C1995.93 1632.11 1995.86 1638.91 1996.1 1645.71C1996.34 1652.52 1996.51 1659.32 1997.53 1666.12C1998.55 1672.93 2000.42 1679.73 2002.22 1686.53C2004.03 1693.33 2006.99 1701.84 2008.35 1706.94C2009.71 1712.04 2009.95 1713.91 2010.39 1717.14C2010.83 1720.37 2010.9 1724.8 2011 1726.33L1971 1726.33C1971.1 1724.8 1971.17 1720.37 1971.61 1717.14C1972.05 1713.91 1972.29 1712.04 1973.65 1706.94C1975.01 1701.84 1977.97 1693.33 1979.78 1686.53C1981.58 1679.73 1983.45 1672.93 1984.47 1666.12C1985.49 1659.32 1985.66 1652.52 1985.9 1645.71C1986.14 1638.91 1986.07 1632.11 1985.9 1625.31C1985.73 1618.5 1985.32 1611.7 1984.88 1604.9C1984.44 1598.1 1983.59 1589.59 1983.24 1584.49C1982.9 1579.39 1982.84 1577.69 1982.84 1574.29C1982.84 1570.88 1982.84 1569.18 1983.24 1564.08C1983.65 1558.98 1984.54 1548.78 1985.29 1543.67C1986.03 1538.57 1987.05 1536.87 1987.73 1533.47C1988.41 1530.07 1989.06 1531.6 1989.37 1523.27C1989.67 1514.93 1989.54 1490.1 1989.57 1483.47Z" fill="#0A8C96"/>
<path d="M2036.9 1512.04V1726.33M2018.1 1726.33H2055.7"/>
<path d="M2074.7 1566.53V1726.33M2055.9 1726.33H2093.5"/>
<path d="M2121 1623.27V1726.33M2102.2 1726.33H2139.8"/>
<path d="M2158.8 1627.96V1726.33M2140 1726.33H2177.6"/>
</g>
<g stroke="#000" stroke-width="4.2" fill="none">
<path d="M1754.4 1377.3V1743.2H2191.4"/>
<line x1="1747.1" y1="1726.3" x2="1754.4" y2="1726.3"/>
<line x1="1747.1" y1="1626.9" x2="1754.4" y2="1626.9"/>
<line x1="1747.1" y1="1527.3" x2="1754.4" y2="1527.3"/>
<line x1="1747.1" y1="1427.3" x2="1754.4" y2="1427.3"/>
<line x1="1804.5" y1="1743.2" x2="1804.5" y2="1750.5"/>
<line x1="1888.2" y1="1743.2" x2="1888.2" y2="1750.5"/>
<line x1="1971.6" y1="1743.2" x2="1971.6" y2="1750.5"/>
<line x1="2055.7" y1="1743.2" x2="2055.7" y2="1750.5"/>
<line x1="2139.8" y1="1743.2" x2="2139.8" y2="1750.5"/>
</g>
<text text-anchor="end" x="1737.6" y="1736.1">0</text>
<text text-anchor="end" x="1737.6" y="1636.7">2</text>
<text text-anchor="end" x="1737.6" y="1537.1">4</text>
<text text-anchor="end" x="1737.6" y="1437.1">6</text>
<text text-anchor="end" transform="translate(1821.1 1764.4) rotate(-45)">h-M0</text>
<text text-anchor="end" transform="translate(1904.8 1764.4) rotate(-45)">h-M1</text>
<text text-anchor="end" transform="translate(1988.2 1764.4) rotate(-45)">h-M2</text>
<text text-anchor="end" transform="translate(2072.3 1764.4) rotate(-45)">h-M3</text>
<text text-anchor="end" transform="translate(2156.4 1764.4) rotate(-45)">h-M4</text>
<text text-anchor="middle" x="1971.3" y="1360">IL1B</text>
<text text-anchor="middle" transform="translate(1709.6 1545.7) rotate(-90)">Expression Level</text>
<rect x="2201.9" y="1539.2" width="29.1" height="56.6" fill="#333333"/>
<rect x="2206" y="1543.3" width="20.9" height="20.7" fill="#F8766D"/>
<rect x="2206" y="1571" width="20.9" height="20.7" fill="#0A8C96"/>
<text x="2243.7" y="1561.2">AAA</text>
<text x="2243.7" y="1589.3">Ctrl</text>
<g stroke="#333333" stroke-width="4.3" stroke-linejoin="round" stroke-linecap="round" fill="none">
<path d="M1785.36 1922.87C1785.4 1925.48 1785.4 1935.24 1785.57 1938.55C1785.75 1941.86 1785.82 1938.55 1786.41 1942.73C1787 1946.91 1788.33 1956.67 1789.13 1963.64C1789.93 1970.61 1790.63 1977.58 1791.22 1984.55C1791.81 1991.52 1792.26 1998.49 1792.68 2005.47C1793.1 2012.44 1793.45 2020.1 1793.73 2026.38C1794.01 2032.65 1794.43 2036.13 1794.36 2043.1C1794.29 2050.08 1793.73 2060.53 1793.31 2068.2C1792.89 2075.87 1792.37 2082.14 1791.85 2089.11C1791.32 2096.08 1790.73 2103.05 1790.17 2110.02C1789.62 2116.99 1788.92 2123.96 1788.5 2130.93C1788.08 2137.9 1787.8 2144.87 1787.66 2151.84C1787.52 2158.81 1787.52 2167.52 1787.66 2172.75C1787.8 2177.98 1788.08 2179.72 1788.5 2183.21C1788.92 2186.69 1789.37 2190.18 1790.17 2193.66C1790.97 2197.15 1792.26 2200.63 1793.31 2204.12C1794.36 2207.6 1795.4 2211.09 1796.45 2214.57C1797.49 2218.06 1798.61 2221.54 1799.58 2225.03C1800.56 2228.51 1801.6 2232 1802.3 2235.48C1803 2238.97 1803.42 2243.05 1803.77 2245.94C1804.11 2248.83 1804.29 2251.69 1804.39 2252.84L1763.41 2252.84C1763.51 2251.69 1763.69 2248.83 1764.03 2245.94C1764.38 2243.05 1764.8 2238.97 1765.5 2235.48C1766.2 2232 1767.24 2228.51 1768.22 2225.03C1769.19 2221.54 1770.31 2218.06 1771.35 2214.57C1772.4 2211.09 1773.44 2207.6 1774.49 2204.12C1775.54 2200.63 1776.83 2197.15 1777.63 2193.66C1778.43 2190.18 1778.88 2186.69 1779.3 2183.21C1779.72 2179.72 1780 2177.98 1780.14 2172.75C1780.28 2167.52 1780.28 2158.81 1780.14 2151.84C1780 2144.87 1779.72 2137.9 1779.3 2130.93C1778.88 2123.96 1778.18 2116.99 1777.63 2110.02C1777.07 2103.05 1776.48 2096.08 1775.95 2089.11C1775.43 2082.14 1774.91 2075.87 1774.49 2068.2C1774.07 2060.53 1773.51 2050.08 1773.44 2043.1C1773.37 2036.13 1773.79 2032.65 1774.07 2026.38C1774.35 2020.1 1774.7 2012.44 1775.12 2005.47C1775.54 1998.49 1775.99 1991.52 1776.58 1984.55C1777.17 1977.58 1777.87 1970.61 1778.67 1963.64C1779.47 1956.67 1780.8 1946.91 1781.39 1942.73C1781.98 1938.55 1782.05 1941.86 1782.23 1938.55C1782.4 1935.24 1782.4 1925.48 1782.44 1922.87Z" fill="#F8766D"/>
<path d="M1822.6 2067.15V2252.84M1803.3 2252.84H1841.9"/>
<path d="M1873.66 1918.69C1874.01 1920.95 1875.16 1928.27 1875.76 1932.28C1876.35 1936.29 1876.63 1937.5 1877.22 1942.73C1877.81 1947.96 1878.72 1956.67 1879.31 1963.64C1879.9 1970.61 1880.43 1977.58 1880.77 1984.55C1881.12 1991.52 1881.4 1998.49 1881.4 2005.47C1881.4 2012.44 1881.12 2019.41 1880.77 2026.38C1880.43 2033.35 1879.8 2040.32 1879.31 2047.29C1878.82 2054.26 1878.3 2061.23 1877.85 2068.2C1877.39 2075.17 1877.01 2082.14 1876.59 2089.11C1876.17 2096.08 1875.76 2103.05 1875.34 2110.02C1874.92 2116.99 1874.47 2123.96 1874.08 2130.93C1873.7 2137.9 1873.11 2144.87 1873.04 2151.84C1872.97 2158.81 1873.32 2167.52 1873.66 2172.75C1874.01 2177.98 1874.36 2179.72 1875.13 2183.21C1875.89 2186.69 1876.97 2188.44 1878.26 2193.66C1879.55 2198.89 1881.3 2207.6 1882.86 2214.57C1884.43 2221.54 1886.52 2230.26 1887.67 2235.48C1888.82 2240.71 1889.31 2243.05 1889.77 2245.94C1890.22 2248.83 1890.29 2251.69 1890.39 2252.84L1849.41 2252.84C1849.51 2251.69 1849.58 2248.83 1850.03 2245.94C1850.49 2243.05 1850.98 2240.71 1852.13 2235.48C1853.28 2230.26 1855.37 2221.54 1856.94 2214.57C1858.5 2207.6 1860.25 2198.89 1861.54 2193.66C1862.83 2188.44 1863.91 2186.69 1864.67 2183.21C1865.44 2179.72 1865.79 2177.98 1866.14 2172.75C1866.48 2167.52 1866.83 2158.81 1866.76 2151.84C1866.69 2144.87 1866.1 2137.9 1865.72 2130.93C1865.33 2123.96 1864.88 2116.99 1864.46 2110.02C1864.04 2103.05 1863.63 2096.08 1863.21 2089.11C1862.79 2082.14 1862.41 2075.17 1861.95 2068.2C1861.5 2061.23 1860.98 2054.26 1860.49 2047.29C1860 2040.32 1859.37 2033.35 1859.03 2026.38C1858.68 2019.41 1858.4 2012.44 1858.4 2005.47C1858.4 1998.49 1858.68 1991.52 1859.03 1984.55C1859.37 1977.58 1859.9 1970.61 1860.49 1963.64C1861.08 1956.67 1861.99 1947.96 1862.58 1942.73C1863.17 1937.5 1863.45 1936.29 1864.04 1932.28C1864.64 1928.27 1865.79 1920.95 1866.14 1918.69Z" fill="#F8766D"/>
<path d="M1909.4 2088.48V2252.84M1890.1 2252.84H1928.7"/>
<path d="M1958.06 1911.37C1958.1 1914.85 1957.89 1927.05 1958.27 1932.28C1958.66 1937.5 1959.07 1937.5 1960.36 1942.73C1961.65 1947.96 1964.2 1956.67 1966.01 1963.64C1967.82 1970.61 1969.74 1977.58 1971.24 1984.55C1972.74 1991.52 1974.06 1998.49 1975 2005.47C1975.94 2012.44 1976.54 2021.15 1976.88 2026.38C1977.23 2031.6 1977.16 2033.35 1977.09 2036.83C1977.02 2040.32 1977.09 2042.06 1976.47 2047.29C1975.84 2052.51 1974.9 2061.23 1973.33 2068.2C1971.76 2075.17 1968.97 2082.14 1967.06 2089.11C1965.14 2096.08 1963.05 2103.05 1961.83 2110.02C1960.61 2116.99 1960.26 2123.96 1959.74 2130.93C1959.21 2137.9 1959.04 2144.87 1958.69 2151.84C1958.34 2158.81 1957.89 2165.78 1957.65 2172.75C1957.4 2179.72 1957.26 2187.74 1957.23 2193.66C1957.19 2199.59 1956.91 2204.82 1957.44 2208.3C1957.96 2211.79 1959.46 2211.79 1960.36 2214.57C1961.27 2217.36 1962.11 2221.54 1962.87 2225.03C1963.64 2228.51 1964.44 2232 1964.96 2235.48C1965.49 2238.97 1965.84 2243.05 1966.01 2245.94C1966.18 2248.83 1966.01 2251.69 1966.01 2252.84L1947.19 2252.84C1947.19 2251.69 1947.02 2248.83 1947.19 2245.94C1947.36 2243.05 1947.71 2238.97 1948.24 2235.48C1948.76 2232 1949.56 2228.51 1950.33 2225.03C1951.09 2221.54 1951.93 2217.36 1952.84 2214.57C1953.74 2211.79 1955.24 2211.79 1955.76 2208.3C1956.29 2204.82 1956.01 2199.59 1955.97 2193.66C1955.94 2187.74 1955.8 2179.72 1955.55 2172.75C1955.31 2165.78 1954.86 2158.81 1954.51 2151.84C1954.16 2144.87 1953.99 2137.9 1953.46 2130.93C1952.94 2123.96 1952.59 2116.99 1951.37 2110.02C1950.15 2103.05 1948.06 2096.08 1946.14 2089.11C1944.23 2082.14 1941.44 2075.17 1939.87 2068.2C1938.3 2061.23 1937.36 2052.51 1936.73 2047.29C1936.11 2042.06 1936.18 2040.32 1936.11 2036.83C1936.04 2033.35 1935.97 2031.6 1936.32 2026.38C1936.66 2021.15 1937.26 2012.44 1938.2 2005.47C1939.14 1998.49 1940.46 1991.52 1941.96 1984.55C1943.46 1977.58 1945.38 1970.61 1947.19 1963.64C1949 1956.67 1951.55 1947.96 1952.84 1942.73C1954.13 1937.5 1954.54 1937.5 1954.93 1932.28C1955.31 1927.05 1955.1 1914.85 1955.14 1911.37Z" fill="#F8766D"/>
<path d="M1995.3 1936.04V2252.84M1976 2252.84H2014.6"/>
<path d="M2023.09 2252.84H2101.92"/>
<path d="M2133.96 1923.49C2134.1 1926.7 2134.45 1936.04 2134.8 1942.73C2135.15 1949.42 2135.6 1956.67 2136.06 1963.64C2136.51 1970.61 2136.93 1977.58 2137.52 1984.55C2138.11 1991.52 2138.81 1998.49 2139.61 2005.47C2140.41 2012.44 2141.46 2019.41 2142.33 2026.38C2143.2 2033.35 2144.14 2040.32 2144.84 2047.29C2145.53 2054.26 2146.16 2061.23 2146.51 2068.2C2146.86 2075.17 2146.93 2082.14 2146.93 2089.11C2146.93 2096.08 2146.68 2103.05 2146.51 2110.02C2146.34 2116.99 2145.99 2123.96 2145.88 2130.93C2145.78 2137.9 2145.78 2144.87 2145.88 2151.84C2145.99 2158.81 2146.27 2165.78 2146.51 2172.75C2146.75 2179.72 2146.93 2186.69 2147.35 2193.66C2147.77 2200.63 2148.57 2207.6 2149.02 2214.57C2149.47 2221.54 2149.82 2229.11 2150.07 2235.48C2150.31 2241.86 2150.41 2249.95 2150.48 2252.84L2109.92 2252.84C2109.99 2249.95 2110.09 2241.86 2110.33 2235.48C2110.58 2229.11 2110.93 2221.54 2111.38 2214.57C2111.83 2207.6 2112.63 2200.63 2113.05 2193.66C2113.47 2186.69 2113.65 2179.72 2113.89 2172.75C2114.13 2165.78 2114.41 2158.81 2114.52 2151.84C2114.62 2144.87 2114.62 2137.9 2114.52 2130.93C2114.41 2123.96 2114.06 2116.99 2113.89 2110.02C2113.72 2103.05 2113.47 2096.08 2113.47 2089.11C2113.47 2082.14 2113.54 2075.17 2113.89 2068.2C2114.24 2061.23 2114.87 2054.26 2115.56 2047.29C2116.26 2040.32 2117.2 2033.35 2118.07 2026.38C2118.94 2019.41 2119.99 2012.44 2120.79 2005.47C2121.59 1998.49 2122.29 1991.52 2122.88 1984.55C2123.47 1977.58 2123.89 1970.61 2124.34 1963.64C2124.8 1956.67 2125.25 1949.42 2125.6 1942.73C2125.95 1936.04 2126.3 1926.7 2126.44 1923.49Z" fill="#F8766D"/>
<path d="M2168.4 2034.32V2252.84M2149.1 2252.84H2187.7"/>
</g>
<g stroke="#000" stroke-width="4.2" fill="none">
<path d="M1751.1 1892.5V2270.4H2203.2"/>
<line x1="1743.8" y1="2252.8" x2="1751.1" y2="2252.8"/>
<line x1="1743.8" y1="2184.3" x2="1751.1" y2="2184.3"/>
<line x1="1743.8" y1="2115.7" x2="1751.1" y2="2115.7"/>
<line x1="1743.8" y1="2047.3" x2="1751.1" y2="2047.3"/>
<line x1="1743.8" y1="1978.3" x2="1751.1" y2="1978.3"/>
<line x1="1743.8" y1="1909.9" x2="1751.1" y2="1909.9"/>
<line x1="1803" y1="2270.4" x2="1803" y2="2277.7"/>
<line x1="1889.7" y1="2270.4" x2="1889.7" y2="2277.7"/>
<line x1="1975.4" y1="2270.4" x2="1975.4" y2="2277.7"/>
<line x1="2062.2" y1="2270.4" x2="2062.2" y2="2277.7"/>
<line x1="2149.4" y1="2270.4" x2="2149.4" y2="2277.7"/>
</g>
<text text-anchor="end" x="1733.8" y="2262.4">0</text>
<text text-anchor="end" x="1733.8" y="2193.9">1</text>
<text text-anchor="end" x="1733.8" y="2125.3">2</text>
<text text-anchor="end" x="1733.8" y="2056.9">3</text>
<text text-anchor="end" x="1733.8" y="1987.9">4</text>
<text text-anchor="end" x="1733.8" y="1919.5">5</text>
<text text-anchor="end" transform="translate(1819.6 2294.4) rotate(-45)">h-M0</text>
<text text-anchor="end" transform="translate(1906.3 2294.4) rotate(-45)">h-M1</text>
<text text-anchor="end" transform="translate(1992 2294.4) rotate(-45)">h-M2</text>
<text text-anchor="end" transform="translate(2078.8 2294.4) rotate(-45)">h-M3</text>
<text text-anchor="end" transform="translate(2166 2294.4) rotate(-45)">h-M4</text>
<text text-anchor="middle" x="1973" y="1874.8">THBS1</text>
<text text-anchor="middle" transform="translate(1706.3 2070.3) rotate(-90)">Expression Level</text>
<rect x="2213.5" y="2059.9" width="30.5" height="58.8" fill="#333333"/>
<rect x="2217.6" y="2064" width="22.3" height="21.8" fill="#F8766D"/>
<rect x="2217.6" y="2092.8" width="22.3" height="21.8" fill="#0A8C96"/>
<text x="2256.6" y="2082.8">AAA</text>
<text x="2256.6" y="2111.3">Ctrl</text>
</g>
</svg>
</body></html>
